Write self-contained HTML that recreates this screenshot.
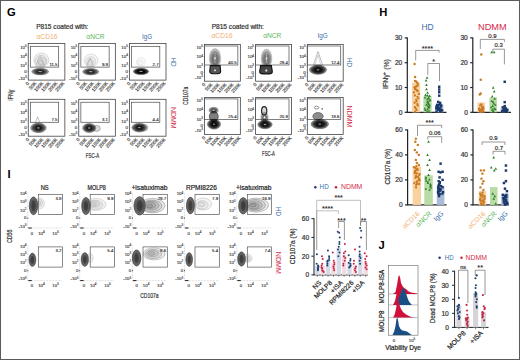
<!DOCTYPE html>
<html><head><meta charset="utf-8"><style>
html,body{margin:0;padding:0;background:#fff;}
body{width:520px;height:360px;overflow:hidden;position:relative;}
svg{display:block;position:absolute;left:0;top:0;}
.bd{position:absolute;left:0;top:0;width:520px;height:360px;box-sizing:border-box;border:1px solid #5a5a5a;pointer-events:none;}
</style></head><body>
<svg width="520" height="360" viewBox="0 0 520 360" font-family='"Liberation Sans", sans-serif'>
<defs><radialGradient id="gi"><stop offset="0" stop-color="#2a2a2a"/><stop offset="0.5" stop-color="#333"/><stop offset="0.8" stop-color="#555"/><stop offset="1" stop-color="#999"/></radialGradient><radialGradient id="gb"><stop offset="0" stop-color="#111"/><stop offset="0.55" stop-color="#1c1c1c"/><stop offset="0.8" stop-color="#444"/><stop offset="1" stop-color="#888"/></radialGradient></defs>
<rect x="0" y="0" width="520" height="360" fill="#fff"/>
<text x="7.00" y="16.30" font-size="11.2" fill="#000" text-anchor="start" font-weight="bold">G</text>
<text x="379.20" y="16.30" font-size="11.2" fill="#000" text-anchor="start" font-weight="bold">H</text>
<text x="7.60" y="177.70" font-size="11.2" fill="#000" text-anchor="start" font-weight="bold">I</text>
<text x="378.60" y="248.70" font-size="11.2" fill="#000" text-anchor="start" font-weight="bold">J</text>
<rect x="28.25" y="43.40" width="36.60" height="36.70" fill="none" stroke="#444" stroke-width="0.8"/>
<rect x="30.35" y="46.35" width="28.30" height="20.75" fill="none" stroke="#555" stroke-width="0.75"/>
<text x="57.45" y="65.80" font-size="4.3" fill="#222" text-anchor="end" font-weight="normal" stroke="#222" stroke-width="0.12">11.5</text>
<text x="26.65" y="48.90" font-size="4.3" fill="#333" text-anchor="end" font-weight="normal" stroke="#333" stroke-width="0.12">10<tspan dy="-1.8" font-size="3">5</tspan></text>
<line x1="27.45" y1="47.40" x2="28.25" y2="47.40" stroke="#555" stroke-width="0.4"/>
<text x="26.65" y="57.60" font-size="4.3" fill="#333" text-anchor="end" font-weight="normal" stroke="#333" stroke-width="0.12">10<tspan dy="-1.8" font-size="3">4</tspan></text>
<line x1="27.45" y1="56.10" x2="28.25" y2="56.10" stroke="#555" stroke-width="0.4"/>
<text x="26.65" y="67.10" font-size="4.3" fill="#333" text-anchor="end" font-weight="normal" stroke="#333" stroke-width="0.12">10<tspan dy="-1.8" font-size="3">3</tspan></text>
<line x1="27.45" y1="65.60" x2="28.25" y2="65.60" stroke="#555" stroke-width="0.4"/>
<text x="26.65" y="72.60" font-size="4.3" fill="#333" text-anchor="end" font-weight="normal" stroke="#333" stroke-width="0.12">0</text>
<line x1="27.45" y1="71.10" x2="28.25" y2="71.10" stroke="#555" stroke-width="0.4"/>
<text x="26.65" y="79.90" font-size="4.3" fill="#333" text-anchor="end" font-weight="normal" stroke="#333" stroke-width="0.12">-10<tspan dy="-1.8" font-size="3">3</tspan></text>
<line x1="27.45" y1="78.40" x2="28.25" y2="78.40" stroke="#555" stroke-width="0.4"/>
<text x="29.65" y="83.70" font-size="4.8" fill="#333" text-anchor="end" font-weight="normal" transform="rotate(-48 29.65 83.69999999999999)" stroke="#333" stroke-width="0.12">0</text>
<text x="36.65" y="83.70" font-size="4.8" fill="#333" text-anchor="end" font-weight="normal" transform="rotate(-48 36.65 83.69999999999999)" stroke="#333" stroke-width="0.12">50K</text>
<text x="43.65" y="83.70" font-size="4.8" fill="#333" text-anchor="end" font-weight="normal" transform="rotate(-48 43.65 83.69999999999999)" stroke="#333" stroke-width="0.12">100K</text>
<text x="50.65" y="83.70" font-size="4.8" fill="#333" text-anchor="end" font-weight="normal" transform="rotate(-48 50.65 83.69999999999999)" stroke="#333" stroke-width="0.12">150K</text>
<text x="57.65" y="83.70" font-size="4.8" fill="#333" text-anchor="end" font-weight="normal" transform="rotate(-48 57.65 83.69999999999999)" stroke="#333" stroke-width="0.12">200K</text>
<text x="64.65" y="83.70" font-size="4.8" fill="#333" text-anchor="end" font-weight="normal" transform="rotate(-48 64.65 83.69999999999999)" stroke="#333" stroke-width="0.12">250K</text>
<rect x="78.75" y="43.40" width="36.60" height="36.70" fill="none" stroke="#444" stroke-width="0.8"/>
<rect x="80.85" y="46.35" width="28.30" height="20.75" fill="none" stroke="#555" stroke-width="0.75"/>
<text x="107.95" y="65.80" font-size="4.3" fill="#222" text-anchor="end" font-weight="normal" stroke="#222" stroke-width="0.12">9.9</text>
<text x="77.15" y="48.90" font-size="4.3" fill="#333" text-anchor="end" font-weight="normal" stroke="#333" stroke-width="0.12">10<tspan dy="-1.8" font-size="3">5</tspan></text>
<line x1="77.95" y1="47.40" x2="78.75" y2="47.40" stroke="#555" stroke-width="0.4"/>
<text x="77.15" y="57.60" font-size="4.3" fill="#333" text-anchor="end" font-weight="normal" stroke="#333" stroke-width="0.12">10<tspan dy="-1.8" font-size="3">4</tspan></text>
<line x1="77.95" y1="56.10" x2="78.75" y2="56.10" stroke="#555" stroke-width="0.4"/>
<text x="77.15" y="67.10" font-size="4.3" fill="#333" text-anchor="end" font-weight="normal" stroke="#333" stroke-width="0.12">10<tspan dy="-1.8" font-size="3">3</tspan></text>
<line x1="77.95" y1="65.60" x2="78.75" y2="65.60" stroke="#555" stroke-width="0.4"/>
<text x="77.15" y="72.60" font-size="4.3" fill="#333" text-anchor="end" font-weight="normal" stroke="#333" stroke-width="0.12">0</text>
<line x1="77.95" y1="71.10" x2="78.75" y2="71.10" stroke="#555" stroke-width="0.4"/>
<text x="77.15" y="79.90" font-size="4.3" fill="#333" text-anchor="end" font-weight="normal" stroke="#333" stroke-width="0.12">-10<tspan dy="-1.8" font-size="3">3</tspan></text>
<line x1="77.95" y1="78.40" x2="78.75" y2="78.40" stroke="#555" stroke-width="0.4"/>
<text x="80.15" y="83.70" font-size="4.8" fill="#333" text-anchor="end" font-weight="normal" transform="rotate(-48 80.15 83.69999999999999)" stroke="#333" stroke-width="0.12">0</text>
<text x="87.15" y="83.70" font-size="4.8" fill="#333" text-anchor="end" font-weight="normal" transform="rotate(-48 87.15 83.69999999999999)" stroke="#333" stroke-width="0.12">50K</text>
<text x="94.15" y="83.70" font-size="4.8" fill="#333" text-anchor="end" font-weight="normal" transform="rotate(-48 94.15 83.69999999999999)" stroke="#333" stroke-width="0.12">100K</text>
<text x="101.15" y="83.70" font-size="4.8" fill="#333" text-anchor="end" font-weight="normal" transform="rotate(-48 101.15 83.69999999999999)" stroke="#333" stroke-width="0.12">150K</text>
<text x="108.15" y="83.70" font-size="4.8" fill="#333" text-anchor="end" font-weight="normal" transform="rotate(-48 108.15 83.69999999999999)" stroke="#333" stroke-width="0.12">200K</text>
<text x="115.15" y="83.70" font-size="4.8" fill="#333" text-anchor="end" font-weight="normal" transform="rotate(-48 115.15 83.69999999999999)" stroke="#333" stroke-width="0.12">250K</text>
<rect x="129.40" y="43.40" width="36.60" height="36.70" fill="none" stroke="#444" stroke-width="0.8"/>
<rect x="131.50" y="46.35" width="28.30" height="20.75" fill="none" stroke="#555" stroke-width="0.75"/>
<text x="158.60" y="65.80" font-size="4.3" fill="#222" text-anchor="end" font-weight="normal" stroke="#222" stroke-width="0.12">2.7</text>
<text x="127.80" y="48.90" font-size="4.3" fill="#333" text-anchor="end" font-weight="normal" stroke="#333" stroke-width="0.12">10<tspan dy="-1.8" font-size="3">5</tspan></text>
<line x1="128.60" y1="47.40" x2="129.40" y2="47.40" stroke="#555" stroke-width="0.4"/>
<text x="127.80" y="57.60" font-size="4.3" fill="#333" text-anchor="end" font-weight="normal" stroke="#333" stroke-width="0.12">10<tspan dy="-1.8" font-size="3">4</tspan></text>
<line x1="128.60" y1="56.10" x2="129.40" y2="56.10" stroke="#555" stroke-width="0.4"/>
<text x="127.80" y="67.10" font-size="4.3" fill="#333" text-anchor="end" font-weight="normal" stroke="#333" stroke-width="0.12">10<tspan dy="-1.8" font-size="3">3</tspan></text>
<line x1="128.60" y1="65.60" x2="129.40" y2="65.60" stroke="#555" stroke-width="0.4"/>
<text x="127.80" y="72.60" font-size="4.3" fill="#333" text-anchor="end" font-weight="normal" stroke="#333" stroke-width="0.12">0</text>
<line x1="128.60" y1="71.10" x2="129.40" y2="71.10" stroke="#555" stroke-width="0.4"/>
<text x="127.80" y="79.90" font-size="4.3" fill="#333" text-anchor="end" font-weight="normal" stroke="#333" stroke-width="0.12">-10<tspan dy="-1.8" font-size="3">3</tspan></text>
<line x1="128.60" y1="78.40" x2="129.40" y2="78.40" stroke="#555" stroke-width="0.4"/>
<text x="130.80" y="83.70" font-size="4.8" fill="#333" text-anchor="end" font-weight="normal" transform="rotate(-48 130.8 83.69999999999999)" stroke="#333" stroke-width="0.12">0</text>
<text x="137.80" y="83.70" font-size="4.8" fill="#333" text-anchor="end" font-weight="normal" transform="rotate(-48 137.8 83.69999999999999)" stroke="#333" stroke-width="0.12">50K</text>
<text x="144.80" y="83.70" font-size="4.8" fill="#333" text-anchor="end" font-weight="normal" transform="rotate(-48 144.8 83.69999999999999)" stroke="#333" stroke-width="0.12">100K</text>
<text x="151.80" y="83.70" font-size="4.8" fill="#333" text-anchor="end" font-weight="normal" transform="rotate(-48 151.8 83.69999999999999)" stroke="#333" stroke-width="0.12">150K</text>
<text x="158.80" y="83.70" font-size="4.8" fill="#333" text-anchor="end" font-weight="normal" transform="rotate(-48 158.8 83.69999999999999)" stroke="#333" stroke-width="0.12">200K</text>
<text x="165.80" y="83.70" font-size="4.8" fill="#333" text-anchor="end" font-weight="normal" transform="rotate(-48 165.8 83.69999999999999)" stroke="#333" stroke-width="0.12">250K</text>
<rect x="28.25" y="99.30" width="36.60" height="36.90" fill="none" stroke="#444" stroke-width="0.8"/>
<rect x="30.35" y="102.25" width="28.30" height="20.05" fill="none" stroke="#555" stroke-width="0.75"/>
<text x="57.45" y="121.00" font-size="4.3" fill="#222" text-anchor="end" font-weight="normal" stroke="#222" stroke-width="0.12">7.5</text>
<text x="26.65" y="104.80" font-size="4.3" fill="#333" text-anchor="end" font-weight="normal" stroke="#333" stroke-width="0.12">10<tspan dy="-1.8" font-size="3">5</tspan></text>
<line x1="27.45" y1="103.30" x2="28.25" y2="103.30" stroke="#555" stroke-width="0.4"/>
<text x="26.65" y="113.50" font-size="4.3" fill="#333" text-anchor="end" font-weight="normal" stroke="#333" stroke-width="0.12">10<tspan dy="-1.8" font-size="3">4</tspan></text>
<line x1="27.45" y1="112.00" x2="28.25" y2="112.00" stroke="#555" stroke-width="0.4"/>
<text x="26.65" y="123.00" font-size="4.3" fill="#333" text-anchor="end" font-weight="normal" stroke="#333" stroke-width="0.12">10<tspan dy="-1.8" font-size="3">3</tspan></text>
<line x1="27.45" y1="121.50" x2="28.25" y2="121.50" stroke="#555" stroke-width="0.4"/>
<text x="26.65" y="128.50" font-size="4.3" fill="#333" text-anchor="end" font-weight="normal" stroke="#333" stroke-width="0.12">0</text>
<line x1="27.45" y1="127.00" x2="28.25" y2="127.00" stroke="#555" stroke-width="0.4"/>
<text x="26.65" y="135.80" font-size="4.3" fill="#333" text-anchor="end" font-weight="normal" stroke="#333" stroke-width="0.12">-10<tspan dy="-1.8" font-size="3">3</tspan></text>
<line x1="27.45" y1="134.30" x2="28.25" y2="134.30" stroke="#555" stroke-width="0.4"/>
<text x="29.65" y="139.80" font-size="4.8" fill="#333" text-anchor="end" font-weight="normal" transform="rotate(-48 29.65 139.79999999999998)" stroke="#333" stroke-width="0.12">0</text>
<text x="36.65" y="139.80" font-size="4.8" fill="#333" text-anchor="end" font-weight="normal" transform="rotate(-48 36.65 139.79999999999998)" stroke="#333" stroke-width="0.12">50K</text>
<text x="43.65" y="139.80" font-size="4.8" fill="#333" text-anchor="end" font-weight="normal" transform="rotate(-48 43.65 139.79999999999998)" stroke="#333" stroke-width="0.12">100K</text>
<text x="50.65" y="139.80" font-size="4.8" fill="#333" text-anchor="end" font-weight="normal" transform="rotate(-48 50.65 139.79999999999998)" stroke="#333" stroke-width="0.12">150K</text>
<text x="57.65" y="139.80" font-size="4.8" fill="#333" text-anchor="end" font-weight="normal" transform="rotate(-48 57.65 139.79999999999998)" stroke="#333" stroke-width="0.12">200K</text>
<text x="64.65" y="139.80" font-size="4.8" fill="#333" text-anchor="end" font-weight="normal" transform="rotate(-48 64.65 139.79999999999998)" stroke="#333" stroke-width="0.12">250K</text>
<rect x="78.75" y="99.30" width="36.60" height="36.90" fill="none" stroke="#444" stroke-width="0.8"/>
<rect x="80.85" y="102.25" width="28.30" height="20.05" fill="none" stroke="#555" stroke-width="0.75"/>
<text x="107.95" y="121.00" font-size="4.3" fill="#222" text-anchor="end" font-weight="normal" stroke="#222" stroke-width="0.12">3.1</text>
<text x="77.15" y="104.80" font-size="4.3" fill="#333" text-anchor="end" font-weight="normal" stroke="#333" stroke-width="0.12">10<tspan dy="-1.8" font-size="3">5</tspan></text>
<line x1="77.95" y1="103.30" x2="78.75" y2="103.30" stroke="#555" stroke-width="0.4"/>
<text x="77.15" y="113.50" font-size="4.3" fill="#333" text-anchor="end" font-weight="normal" stroke="#333" stroke-width="0.12">10<tspan dy="-1.8" font-size="3">4</tspan></text>
<line x1="77.95" y1="112.00" x2="78.75" y2="112.00" stroke="#555" stroke-width="0.4"/>
<text x="77.15" y="123.00" font-size="4.3" fill="#333" text-anchor="end" font-weight="normal" stroke="#333" stroke-width="0.12">10<tspan dy="-1.8" font-size="3">3</tspan></text>
<line x1="77.95" y1="121.50" x2="78.75" y2="121.50" stroke="#555" stroke-width="0.4"/>
<text x="77.15" y="128.50" font-size="4.3" fill="#333" text-anchor="end" font-weight="normal" stroke="#333" stroke-width="0.12">0</text>
<line x1="77.95" y1="127.00" x2="78.75" y2="127.00" stroke="#555" stroke-width="0.4"/>
<text x="77.15" y="135.80" font-size="4.3" fill="#333" text-anchor="end" font-weight="normal" stroke="#333" stroke-width="0.12">-10<tspan dy="-1.8" font-size="3">3</tspan></text>
<line x1="77.95" y1="134.30" x2="78.75" y2="134.30" stroke="#555" stroke-width="0.4"/>
<text x="80.15" y="139.80" font-size="4.8" fill="#333" text-anchor="end" font-weight="normal" transform="rotate(-48 80.15 139.79999999999998)" stroke="#333" stroke-width="0.12">0</text>
<text x="87.15" y="139.80" font-size="4.8" fill="#333" text-anchor="end" font-weight="normal" transform="rotate(-48 87.15 139.79999999999998)" stroke="#333" stroke-width="0.12">50K</text>
<text x="94.15" y="139.80" font-size="4.8" fill="#333" text-anchor="end" font-weight="normal" transform="rotate(-48 94.15 139.79999999999998)" stroke="#333" stroke-width="0.12">100K</text>
<text x="101.15" y="139.80" font-size="4.8" fill="#333" text-anchor="end" font-weight="normal" transform="rotate(-48 101.15 139.79999999999998)" stroke="#333" stroke-width="0.12">150K</text>
<text x="108.15" y="139.80" font-size="4.8" fill="#333" text-anchor="end" font-weight="normal" transform="rotate(-48 108.15 139.79999999999998)" stroke="#333" stroke-width="0.12">200K</text>
<text x="115.15" y="139.80" font-size="4.8" fill="#333" text-anchor="end" font-weight="normal" transform="rotate(-48 115.15 139.79999999999998)" stroke="#333" stroke-width="0.12">250K</text>
<rect x="129.40" y="99.30" width="36.60" height="36.90" fill="none" stroke="#444" stroke-width="0.8"/>
<rect x="131.50" y="102.25" width="28.30" height="20.05" fill="none" stroke="#555" stroke-width="0.75"/>
<text x="158.60" y="121.00" font-size="4.3" fill="#222" text-anchor="end" font-weight="normal" stroke="#222" stroke-width="0.12">4.4</text>
<text x="127.80" y="104.80" font-size="4.3" fill="#333" text-anchor="end" font-weight="normal" stroke="#333" stroke-width="0.12">10<tspan dy="-1.8" font-size="3">5</tspan></text>
<line x1="128.60" y1="103.30" x2="129.40" y2="103.30" stroke="#555" stroke-width="0.4"/>
<text x="127.80" y="113.50" font-size="4.3" fill="#333" text-anchor="end" font-weight="normal" stroke="#333" stroke-width="0.12">10<tspan dy="-1.8" font-size="3">4</tspan></text>
<line x1="128.60" y1="112.00" x2="129.40" y2="112.00" stroke="#555" stroke-width="0.4"/>
<text x="127.80" y="123.00" font-size="4.3" fill="#333" text-anchor="end" font-weight="normal" stroke="#333" stroke-width="0.12">10<tspan dy="-1.8" font-size="3">3</tspan></text>
<line x1="128.60" y1="121.50" x2="129.40" y2="121.50" stroke="#555" stroke-width="0.4"/>
<text x="127.80" y="128.50" font-size="4.3" fill="#333" text-anchor="end" font-weight="normal" stroke="#333" stroke-width="0.12">0</text>
<line x1="128.60" y1="127.00" x2="129.40" y2="127.00" stroke="#555" stroke-width="0.4"/>
<text x="127.80" y="135.80" font-size="4.3" fill="#333" text-anchor="end" font-weight="normal" stroke="#333" stroke-width="0.12">-10<tspan dy="-1.8" font-size="3">3</tspan></text>
<line x1="128.60" y1="134.30" x2="129.40" y2="134.30" stroke="#555" stroke-width="0.4"/>
<text x="130.80" y="139.80" font-size="4.8" fill="#333" text-anchor="end" font-weight="normal" transform="rotate(-48 130.8 139.79999999999998)" stroke="#333" stroke-width="0.12">0</text>
<text x="137.80" y="139.80" font-size="4.8" fill="#333" text-anchor="end" font-weight="normal" transform="rotate(-48 137.8 139.79999999999998)" stroke="#333" stroke-width="0.12">50K</text>
<text x="144.80" y="139.80" font-size="4.8" fill="#333" text-anchor="end" font-weight="normal" transform="rotate(-48 144.8 139.79999999999998)" stroke="#333" stroke-width="0.12">100K</text>
<text x="151.80" y="139.80" font-size="4.8" fill="#333" text-anchor="end" font-weight="normal" transform="rotate(-48 151.8 139.79999999999998)" stroke="#333" stroke-width="0.12">150K</text>
<text x="158.80" y="139.80" font-size="4.8" fill="#333" text-anchor="end" font-weight="normal" transform="rotate(-48 158.8 139.79999999999998)" stroke="#333" stroke-width="0.12">200K</text>
<text x="165.80" y="139.80" font-size="4.8" fill="#333" text-anchor="end" font-weight="normal" transform="rotate(-48 165.8 139.79999999999998)" stroke="#333" stroke-width="0.12">250K</text>
<rect x="204.45" y="44.50" width="35.90" height="36.70" fill="none" stroke="#444" stroke-width="0.8"/>
<rect x="204.45" y="46.00" width="33.40" height="19.00" fill="none" stroke="#555" stroke-width="0.75"/>
<text x="236.65" y="63.70" font-size="4.3" fill="#222" text-anchor="end" font-weight="normal" stroke="#222" stroke-width="0.12">40.5</text>
<text x="202.85" y="49.00" font-size="4.3" fill="#333" text-anchor="end" font-weight="normal" stroke="#333" stroke-width="0.12">10<tspan dy="-1.8" font-size="3">5</tspan></text>
<line x1="203.65" y1="47.50" x2="204.45" y2="47.50" stroke="#555" stroke-width="0.4"/>
<text x="202.85" y="58.40" font-size="4.3" fill="#333" text-anchor="end" font-weight="normal" stroke="#333" stroke-width="0.12">10<tspan dy="-1.8" font-size="3">4</tspan></text>
<line x1="203.65" y1="56.90" x2="204.45" y2="56.90" stroke="#555" stroke-width="0.4"/>
<text x="202.85" y="68.00" font-size="4.3" fill="#333" text-anchor="end" font-weight="normal" stroke="#333" stroke-width="0.12">10<tspan dy="-1.8" font-size="3">3</tspan></text>
<line x1="203.65" y1="66.50" x2="204.45" y2="66.50" stroke="#555" stroke-width="0.4"/>
<text x="202.85" y="73.70" font-size="4.3" fill="#333" text-anchor="end" font-weight="normal" stroke="#333" stroke-width="0.12">0</text>
<line x1="203.65" y1="72.20" x2="204.45" y2="72.20" stroke="#555" stroke-width="0.4"/>
<text x="202.85" y="78.60" font-size="4.3" fill="#333" text-anchor="end" font-weight="normal" stroke="#333" stroke-width="0.12">-10<tspan dy="-1.8" font-size="3">3</tspan></text>
<line x1="203.65" y1="77.10" x2="204.45" y2="77.10" stroke="#555" stroke-width="0.4"/>
<text x="205.85" y="84.80" font-size="4.8" fill="#333" text-anchor="end" font-weight="normal" transform="rotate(-48 205.85 84.8)" stroke="#333" stroke-width="0.12">0</text>
<text x="212.85" y="84.80" font-size="4.8" fill="#333" text-anchor="end" font-weight="normal" transform="rotate(-48 212.85 84.8)" stroke="#333" stroke-width="0.12">50K</text>
<text x="219.85" y="84.80" font-size="4.8" fill="#333" text-anchor="end" font-weight="normal" transform="rotate(-48 219.85 84.8)" stroke="#333" stroke-width="0.12">100K</text>
<text x="226.85" y="84.80" font-size="4.8" fill="#333" text-anchor="end" font-weight="normal" transform="rotate(-48 226.85 84.8)" stroke="#333" stroke-width="0.12">150K</text>
<text x="233.85" y="84.80" font-size="4.8" fill="#333" text-anchor="end" font-weight="normal" transform="rotate(-48 233.85 84.8)" stroke="#333" stroke-width="0.12">200K</text>
<text x="240.85" y="84.80" font-size="4.8" fill="#333" text-anchor="end" font-weight="normal" transform="rotate(-48 240.85 84.8)" stroke="#333" stroke-width="0.12">250K</text>
<rect x="255.60" y="44.50" width="35.90" height="36.70" fill="none" stroke="#444" stroke-width="0.8"/>
<rect x="255.60" y="46.00" width="33.40" height="19.00" fill="none" stroke="#555" stroke-width="0.75"/>
<text x="287.80" y="63.70" font-size="4.3" fill="#222" text-anchor="end" font-weight="normal" stroke="#222" stroke-width="0.12">29.4</text>
<text x="254.00" y="49.00" font-size="4.3" fill="#333" text-anchor="end" font-weight="normal" stroke="#333" stroke-width="0.12">10<tspan dy="-1.8" font-size="3">5</tspan></text>
<line x1="254.80" y1="47.50" x2="255.60" y2="47.50" stroke="#555" stroke-width="0.4"/>
<text x="254.00" y="58.40" font-size="4.3" fill="#333" text-anchor="end" font-weight="normal" stroke="#333" stroke-width="0.12">10<tspan dy="-1.8" font-size="3">4</tspan></text>
<line x1="254.80" y1="56.90" x2="255.60" y2="56.90" stroke="#555" stroke-width="0.4"/>
<text x="254.00" y="68.00" font-size="4.3" fill="#333" text-anchor="end" font-weight="normal" stroke="#333" stroke-width="0.12">10<tspan dy="-1.8" font-size="3">3</tspan></text>
<line x1="254.80" y1="66.50" x2="255.60" y2="66.50" stroke="#555" stroke-width="0.4"/>
<text x="254.00" y="73.70" font-size="4.3" fill="#333" text-anchor="end" font-weight="normal" stroke="#333" stroke-width="0.12">0</text>
<line x1="254.80" y1="72.20" x2="255.60" y2="72.20" stroke="#555" stroke-width="0.4"/>
<text x="254.00" y="78.60" font-size="4.3" fill="#333" text-anchor="end" font-weight="normal" stroke="#333" stroke-width="0.12">-10<tspan dy="-1.8" font-size="3">3</tspan></text>
<line x1="254.80" y1="77.10" x2="255.60" y2="77.10" stroke="#555" stroke-width="0.4"/>
<text x="257.00" y="84.80" font-size="4.8" fill="#333" text-anchor="end" font-weight="normal" transform="rotate(-48 257.0 84.8)" stroke="#333" stroke-width="0.12">0</text>
<text x="264.00" y="84.80" font-size="4.8" fill="#333" text-anchor="end" font-weight="normal" transform="rotate(-48 264.0 84.8)" stroke="#333" stroke-width="0.12">50K</text>
<text x="271.00" y="84.80" font-size="4.8" fill="#333" text-anchor="end" font-weight="normal" transform="rotate(-48 271.0 84.8)" stroke="#333" stroke-width="0.12">100K</text>
<text x="278.00" y="84.80" font-size="4.8" fill="#333" text-anchor="end" font-weight="normal" transform="rotate(-48 278.0 84.8)" stroke="#333" stroke-width="0.12">150K</text>
<text x="285.00" y="84.80" font-size="4.8" fill="#333" text-anchor="end" font-weight="normal" transform="rotate(-48 285.0 84.8)" stroke="#333" stroke-width="0.12">200K</text>
<text x="292.00" y="84.80" font-size="4.8" fill="#333" text-anchor="end" font-weight="normal" transform="rotate(-48 292.0 84.8)" stroke="#333" stroke-width="0.12">250K</text>
<rect x="307.30" y="44.50" width="35.90" height="36.70" fill="none" stroke="#444" stroke-width="0.8"/>
<rect x="307.30" y="46.00" width="33.40" height="19.00" fill="none" stroke="#555" stroke-width="0.75"/>
<text x="339.50" y="63.70" font-size="4.3" fill="#222" text-anchor="end" font-weight="normal" stroke="#222" stroke-width="0.12">12.4</text>
<text x="305.70" y="49.00" font-size="4.3" fill="#333" text-anchor="end" font-weight="normal" stroke="#333" stroke-width="0.12">10<tspan dy="-1.8" font-size="3">5</tspan></text>
<line x1="306.50" y1="47.50" x2="307.30" y2="47.50" stroke="#555" stroke-width="0.4"/>
<text x="305.70" y="58.40" font-size="4.3" fill="#333" text-anchor="end" font-weight="normal" stroke="#333" stroke-width="0.12">10<tspan dy="-1.8" font-size="3">4</tspan></text>
<line x1="306.50" y1="56.90" x2="307.30" y2="56.90" stroke="#555" stroke-width="0.4"/>
<text x="305.70" y="68.00" font-size="4.3" fill="#333" text-anchor="end" font-weight="normal" stroke="#333" stroke-width="0.12">10<tspan dy="-1.8" font-size="3">3</tspan></text>
<line x1="306.50" y1="66.50" x2="307.30" y2="66.50" stroke="#555" stroke-width="0.4"/>
<text x="305.70" y="73.70" font-size="4.3" fill="#333" text-anchor="end" font-weight="normal" stroke="#333" stroke-width="0.12">0</text>
<line x1="306.50" y1="72.20" x2="307.30" y2="72.20" stroke="#555" stroke-width="0.4"/>
<text x="305.70" y="78.60" font-size="4.3" fill="#333" text-anchor="end" font-weight="normal" stroke="#333" stroke-width="0.12">-10<tspan dy="-1.8" font-size="3">3</tspan></text>
<line x1="306.50" y1="77.10" x2="307.30" y2="77.10" stroke="#555" stroke-width="0.4"/>
<text x="308.70" y="84.80" font-size="4.8" fill="#333" text-anchor="end" font-weight="normal" transform="rotate(-48 308.7 84.8)" stroke="#333" stroke-width="0.12">0</text>
<text x="315.70" y="84.80" font-size="4.8" fill="#333" text-anchor="end" font-weight="normal" transform="rotate(-48 315.7 84.8)" stroke="#333" stroke-width="0.12">50K</text>
<text x="322.70" y="84.80" font-size="4.8" fill="#333" text-anchor="end" font-weight="normal" transform="rotate(-48 322.7 84.8)" stroke="#333" stroke-width="0.12">100K</text>
<text x="329.70" y="84.80" font-size="4.8" fill="#333" text-anchor="end" font-weight="normal" transform="rotate(-48 329.7 84.8)" stroke="#333" stroke-width="0.12">150K</text>
<text x="336.70" y="84.80" font-size="4.8" fill="#333" text-anchor="end" font-weight="normal" transform="rotate(-48 336.7 84.8)" stroke="#333" stroke-width="0.12">200K</text>
<text x="343.70" y="84.80" font-size="4.8" fill="#333" text-anchor="end" font-weight="normal" transform="rotate(-48 343.7 84.8)" stroke="#333" stroke-width="0.12">250K</text>
<rect x="204.45" y="97.40" width="35.90" height="37.10" fill="none" stroke="#444" stroke-width="0.8"/>
<rect x="204.45" y="98.90" width="33.40" height="20.50" fill="none" stroke="#555" stroke-width="0.75"/>
<text x="236.65" y="118.10" font-size="4.3" fill="#222" text-anchor="end" font-weight="normal" stroke="#222" stroke-width="0.12">25.4</text>
<text x="202.85" y="101.90" font-size="4.3" fill="#333" text-anchor="end" font-weight="normal" stroke="#333" stroke-width="0.12">10<tspan dy="-1.8" font-size="3">5</tspan></text>
<line x1="203.65" y1="100.40" x2="204.45" y2="100.40" stroke="#555" stroke-width="0.4"/>
<text x="202.85" y="111.30" font-size="4.3" fill="#333" text-anchor="end" font-weight="normal" stroke="#333" stroke-width="0.12">10<tspan dy="-1.8" font-size="3">4</tspan></text>
<line x1="203.65" y1="109.80" x2="204.45" y2="109.80" stroke="#555" stroke-width="0.4"/>
<text x="202.85" y="120.90" font-size="4.3" fill="#333" text-anchor="end" font-weight="normal" stroke="#333" stroke-width="0.12">10<tspan dy="-1.8" font-size="3">3</tspan></text>
<line x1="203.65" y1="119.40" x2="204.45" y2="119.40" stroke="#555" stroke-width="0.4"/>
<text x="202.85" y="126.60" font-size="4.3" fill="#333" text-anchor="end" font-weight="normal" stroke="#333" stroke-width="0.12">0</text>
<line x1="203.65" y1="125.10" x2="204.45" y2="125.10" stroke="#555" stroke-width="0.4"/>
<text x="202.85" y="131.50" font-size="4.3" fill="#333" text-anchor="end" font-weight="normal" stroke="#333" stroke-width="0.12">-10<tspan dy="-1.8" font-size="3">3</tspan></text>
<line x1="203.65" y1="130.00" x2="204.45" y2="130.00" stroke="#555" stroke-width="0.4"/>
<text x="205.85" y="138.10" font-size="4.8" fill="#333" text-anchor="end" font-weight="normal" transform="rotate(-48 205.85 138.1)" stroke="#333" stroke-width="0.12">0</text>
<text x="212.85" y="138.10" font-size="4.8" fill="#333" text-anchor="end" font-weight="normal" transform="rotate(-48 212.85 138.1)" stroke="#333" stroke-width="0.12">50K</text>
<text x="219.85" y="138.10" font-size="4.8" fill="#333" text-anchor="end" font-weight="normal" transform="rotate(-48 219.85 138.1)" stroke="#333" stroke-width="0.12">100K</text>
<text x="226.85" y="138.10" font-size="4.8" fill="#333" text-anchor="end" font-weight="normal" transform="rotate(-48 226.85 138.1)" stroke="#333" stroke-width="0.12">150K</text>
<text x="233.85" y="138.10" font-size="4.8" fill="#333" text-anchor="end" font-weight="normal" transform="rotate(-48 233.85 138.1)" stroke="#333" stroke-width="0.12">200K</text>
<text x="240.85" y="138.10" font-size="4.8" fill="#333" text-anchor="end" font-weight="normal" transform="rotate(-48 240.85 138.1)" stroke="#333" stroke-width="0.12">250K</text>
<rect x="255.60" y="97.40" width="35.90" height="37.10" fill="none" stroke="#444" stroke-width="0.8"/>
<rect x="255.60" y="98.90" width="33.40" height="20.50" fill="none" stroke="#555" stroke-width="0.75"/>
<text x="287.80" y="118.10" font-size="4.3" fill="#222" text-anchor="end" font-weight="normal" stroke="#222" stroke-width="0.12">20.9</text>
<text x="254.00" y="101.90" font-size="4.3" fill="#333" text-anchor="end" font-weight="normal" stroke="#333" stroke-width="0.12">10<tspan dy="-1.8" font-size="3">5</tspan></text>
<line x1="254.80" y1="100.40" x2="255.60" y2="100.40" stroke="#555" stroke-width="0.4"/>
<text x="254.00" y="111.30" font-size="4.3" fill="#333" text-anchor="end" font-weight="normal" stroke="#333" stroke-width="0.12">10<tspan dy="-1.8" font-size="3">4</tspan></text>
<line x1="254.80" y1="109.80" x2="255.60" y2="109.80" stroke="#555" stroke-width="0.4"/>
<text x="254.00" y="120.90" font-size="4.3" fill="#333" text-anchor="end" font-weight="normal" stroke="#333" stroke-width="0.12">10<tspan dy="-1.8" font-size="3">3</tspan></text>
<line x1="254.80" y1="119.40" x2="255.60" y2="119.40" stroke="#555" stroke-width="0.4"/>
<text x="254.00" y="126.60" font-size="4.3" fill="#333" text-anchor="end" font-weight="normal" stroke="#333" stroke-width="0.12">0</text>
<line x1="254.80" y1="125.10" x2="255.60" y2="125.10" stroke="#555" stroke-width="0.4"/>
<text x="254.00" y="131.50" font-size="4.3" fill="#333" text-anchor="end" font-weight="normal" stroke="#333" stroke-width="0.12">-10<tspan dy="-1.8" font-size="3">3</tspan></text>
<line x1="254.80" y1="130.00" x2="255.60" y2="130.00" stroke="#555" stroke-width="0.4"/>
<text x="257.00" y="138.10" font-size="4.8" fill="#333" text-anchor="end" font-weight="normal" transform="rotate(-48 257.0 138.1)" stroke="#333" stroke-width="0.12">0</text>
<text x="264.00" y="138.10" font-size="4.8" fill="#333" text-anchor="end" font-weight="normal" transform="rotate(-48 264.0 138.1)" stroke="#333" stroke-width="0.12">50K</text>
<text x="271.00" y="138.10" font-size="4.8" fill="#333" text-anchor="end" font-weight="normal" transform="rotate(-48 271.0 138.1)" stroke="#333" stroke-width="0.12">100K</text>
<text x="278.00" y="138.10" font-size="4.8" fill="#333" text-anchor="end" font-weight="normal" transform="rotate(-48 278.0 138.1)" stroke="#333" stroke-width="0.12">150K</text>
<text x="285.00" y="138.10" font-size="4.8" fill="#333" text-anchor="end" font-weight="normal" transform="rotate(-48 285.0 138.1)" stroke="#333" stroke-width="0.12">200K</text>
<text x="292.00" y="138.10" font-size="4.8" fill="#333" text-anchor="end" font-weight="normal" transform="rotate(-48 292.0 138.1)" stroke="#333" stroke-width="0.12">250K</text>
<rect x="307.30" y="97.40" width="35.90" height="37.10" fill="none" stroke="#444" stroke-width="0.8"/>
<rect x="307.30" y="98.90" width="33.40" height="20.50" fill="none" stroke="#555" stroke-width="0.75"/>
<text x="339.50" y="118.10" font-size="4.3" fill="#222" text-anchor="end" font-weight="normal" stroke="#222" stroke-width="0.12">18.6</text>
<text x="305.70" y="101.90" font-size="4.3" fill="#333" text-anchor="end" font-weight="normal" stroke="#333" stroke-width="0.12">10<tspan dy="-1.8" font-size="3">5</tspan></text>
<line x1="306.50" y1="100.40" x2="307.30" y2="100.40" stroke="#555" stroke-width="0.4"/>
<text x="305.70" y="111.30" font-size="4.3" fill="#333" text-anchor="end" font-weight="normal" stroke="#333" stroke-width="0.12">10<tspan dy="-1.8" font-size="3">4</tspan></text>
<line x1="306.50" y1="109.80" x2="307.30" y2="109.80" stroke="#555" stroke-width="0.4"/>
<text x="305.70" y="120.90" font-size="4.3" fill="#333" text-anchor="end" font-weight="normal" stroke="#333" stroke-width="0.12">10<tspan dy="-1.8" font-size="3">3</tspan></text>
<line x1="306.50" y1="119.40" x2="307.30" y2="119.40" stroke="#555" stroke-width="0.4"/>
<text x="305.70" y="126.60" font-size="4.3" fill="#333" text-anchor="end" font-weight="normal" stroke="#333" stroke-width="0.12">0</text>
<line x1="306.50" y1="125.10" x2="307.30" y2="125.10" stroke="#555" stroke-width="0.4"/>
<text x="305.70" y="131.50" font-size="4.3" fill="#333" text-anchor="end" font-weight="normal" stroke="#333" stroke-width="0.12">-10<tspan dy="-1.8" font-size="3">3</tspan></text>
<line x1="306.50" y1="130.00" x2="307.30" y2="130.00" stroke="#555" stroke-width="0.4"/>
<text x="308.70" y="138.10" font-size="4.8" fill="#333" text-anchor="end" font-weight="normal" transform="rotate(-48 308.7 138.1)" stroke="#333" stroke-width="0.12">0</text>
<text x="315.70" y="138.10" font-size="4.8" fill="#333" text-anchor="end" font-weight="normal" transform="rotate(-48 315.7 138.1)" stroke="#333" stroke-width="0.12">50K</text>
<text x="322.70" y="138.10" font-size="4.8" fill="#333" text-anchor="end" font-weight="normal" transform="rotate(-48 322.7 138.1)" stroke="#333" stroke-width="0.12">100K</text>
<text x="329.70" y="138.10" font-size="4.8" fill="#333" text-anchor="end" font-weight="normal" transform="rotate(-48 329.7 138.1)" stroke="#333" stroke-width="0.12">150K</text>
<text x="336.70" y="138.10" font-size="4.8" fill="#333" text-anchor="end" font-weight="normal" transform="rotate(-48 336.7 138.1)" stroke="#333" stroke-width="0.12">200K</text>
<text x="343.70" y="138.10" font-size="4.8" fill="#333" text-anchor="end" font-weight="normal" transform="rotate(-48 343.7 138.1)" stroke="#333" stroke-width="0.12">250K</text>
<ellipse cx="41.29" cy="60.00" rx="7.50" ry="7.00" fill="#000" fill-opacity="0.045" stroke="#999" stroke-width="0.35"/>
<ellipse cx="41.08" cy="60.78" rx="5.83" ry="5.44" fill="#000" fill-opacity="0.045" stroke="#999" stroke-width="0.35"/>
<ellipse cx="41.68" cy="61.56" rx="4.17" ry="3.89" fill="#000" fill-opacity="0.045" stroke="#999" stroke-width="0.35"/>
<ellipse cx="40.99" cy="62.33" rx="2.50" ry="2.33" fill="#000" fill-opacity="0.045" stroke="#999" stroke-width="0.35"/>
<polygon points="40.00,55.50 35.50,66.50 44.50,66.50" fill="none" stroke="#999" stroke-width="0.4"/>
<ellipse cx="40.20" cy="71.60" rx="8.40" ry="3.30" fill="#000" fill-opacity="0.377" stroke="#000" stroke-width="0.5" stroke-opacity="0.55"/>
<ellipse cx="40.20" cy="71.60" rx="6.57" ry="2.58" fill="#000" fill-opacity="0.377" stroke="#000" stroke-width="0.5" stroke-opacity="0.55"/>
<ellipse cx="40.20" cy="71.60" rx="4.75" ry="1.87" fill="#000" fill-opacity="0.377" stroke="#000" stroke-width="0.5" stroke-opacity="0.55"/>
<ellipse cx="40.20" cy="71.60" rx="2.92" ry="1.15" fill="#000" fill-opacity="0.377" stroke="#000" stroke-width="0.5" stroke-opacity="0.55"/>
<ellipse cx="40.20" cy="71.60" rx="2.10" ry="0.66" fill="#fff" fill-opacity="0.6"/>
<ellipse cx="91.04" cy="60.50" rx="7.00" ry="6.50" fill="#000" fill-opacity="0.04" stroke="#aaa" stroke-width="0.35"/>
<ellipse cx="90.84" cy="61.43" rx="5.00" ry="4.64" fill="#000" fill-opacity="0.04" stroke="#aaa" stroke-width="0.35"/>
<ellipse cx="90.47" cy="62.36" rx="3.00" ry="2.79" fill="#000" fill-opacity="0.04" stroke="#aaa" stroke-width="0.35"/>
<polygon points="90.00,58.00 86.50,66.50 93.50,66.50" fill="none" stroke="#888" stroke-width="0.4"/>
<ellipse cx="90.70" cy="71.70" rx="8.00" ry="3.20" fill="#000" fill-opacity="0.377" stroke="#000" stroke-width="0.5" stroke-opacity="0.55"/>
<ellipse cx="90.70" cy="71.70" rx="6.26" ry="2.50" fill="#000" fill-opacity="0.377" stroke="#000" stroke-width="0.5" stroke-opacity="0.55"/>
<ellipse cx="90.70" cy="71.70" rx="4.52" ry="1.81" fill="#000" fill-opacity="0.377" stroke="#000" stroke-width="0.5" stroke-opacity="0.55"/>
<ellipse cx="90.70" cy="71.70" rx="2.78" ry="1.11" fill="#000" fill-opacity="0.377" stroke="#000" stroke-width="0.5" stroke-opacity="0.55"/>
<ellipse cx="90.70" cy="71.70" rx="2.00" ry="0.64" fill="#fff" fill-opacity="0.6"/>
<ellipse cx="141.01" cy="62.00" rx="4.50" ry="4.50" fill="#000" fill-opacity="0.02" stroke="#ccc" stroke-width="0.35"/>
<ellipse cx="140.44" cy="62.90" rx="2.70" ry="2.70" fill="#000" fill-opacity="0.02" stroke="#ccc" stroke-width="0.35"/>
<ellipse cx="141.00" cy="71.40" rx="7.60" ry="3.20" fill="#000" fill-opacity="0.609" stroke="#000" stroke-width="0.5" stroke-opacity="0.55"/>
<ellipse cx="141.00" cy="71.40" rx="5.95" ry="2.50" fill="#000" fill-opacity="0.609" stroke="#000" stroke-width="0.5" stroke-opacity="0.55"/>
<ellipse cx="141.00" cy="71.40" rx="4.30" ry="1.81" fill="#000" fill-opacity="0.609" stroke="#000" stroke-width="0.5" stroke-opacity="0.55"/>
<ellipse cx="141.00" cy="71.40" rx="2.64" ry="1.11" fill="#000" fill-opacity="0.609" stroke="#000" stroke-width="0.5" stroke-opacity="0.55"/>
<ellipse cx="141.00" cy="71.40" rx="1.67" ry="0.56" fill="#fff" fill-opacity="0.6"/>
<polygon points="37.60,116.80 35.40,122.60 39.80,122.60" fill="none" stroke="#777" stroke-width="0.45"/>
<ellipse cx="38.40" cy="127.90" rx="7.80" ry="4.80" fill="#000" fill-opacity="0.348" stroke="#000" stroke-width="0.5" stroke-opacity="0.55"/>
<ellipse cx="38.40" cy="127.90" rx="6.41" ry="3.94" fill="#000" fill-opacity="0.348" stroke="#000" stroke-width="0.5" stroke-opacity="0.55"/>
<ellipse cx="38.40" cy="127.90" rx="5.01" ry="3.09" fill="#000" fill-opacity="0.348" stroke="#000" stroke-width="0.5" stroke-opacity="0.55"/>
<ellipse cx="38.40" cy="127.90" rx="3.62" ry="2.23" fill="#000" fill-opacity="0.348" stroke="#000" stroke-width="0.5" stroke-opacity="0.55"/>
<ellipse cx="38.40" cy="127.90" rx="2.23" ry="1.37" fill="#000" fill-opacity="0.348" stroke="#000" stroke-width="0.5" stroke-opacity="0.55"/>
<ellipse cx="38.40" cy="127.90" rx="1.40" ry="0.69" fill="#fff" fill-opacity="0.6"/>
<ellipse cx="96.50" cy="128.40" rx="3.80" ry="3.00" fill="#000" fill-opacity="0.14" stroke="#555" stroke-width="0.4"/>
<ellipse cx="89.20" cy="128.00" rx="6.60" ry="4.50" fill="#000" fill-opacity="0.348" stroke="#000" stroke-width="0.5" stroke-opacity="0.55"/>
<ellipse cx="89.20" cy="128.00" rx="5.42" ry="3.70" fill="#000" fill-opacity="0.348" stroke="#000" stroke-width="0.5" stroke-opacity="0.55"/>
<ellipse cx="89.20" cy="128.00" rx="4.24" ry="2.89" fill="#000" fill-opacity="0.348" stroke="#000" stroke-width="0.5" stroke-opacity="0.55"/>
<ellipse cx="89.20" cy="128.00" rx="3.06" ry="2.09" fill="#000" fill-opacity="0.348" stroke="#000" stroke-width="0.5" stroke-opacity="0.55"/>
<ellipse cx="89.20" cy="128.00" rx="1.89" ry="1.29" fill="#000" fill-opacity="0.348" stroke="#000" stroke-width="0.5" stroke-opacity="0.55"/>
<ellipse cx="89.20" cy="128.00" rx="1.32" ry="0.72" fill="#fff" fill-opacity="0.6"/>
<ellipse cx="144.50" cy="127.60" rx="3.40" ry="3.20" fill="#000" fill-opacity="0.12" stroke="#666" stroke-width="0.4"/>
<ellipse cx="139.30" cy="127.60" rx="7.40" ry="4.40" fill="#000" fill-opacity="0.348" stroke="#000" stroke-width="0.5" stroke-opacity="0.55"/>
<ellipse cx="139.30" cy="127.60" rx="6.08" ry="3.61" fill="#000" fill-opacity="0.348" stroke="#000" stroke-width="0.5" stroke-opacity="0.55"/>
<ellipse cx="139.30" cy="127.60" rx="4.76" ry="2.83" fill="#000" fill-opacity="0.348" stroke="#000" stroke-width="0.5" stroke-opacity="0.55"/>
<ellipse cx="139.30" cy="127.60" rx="3.44" ry="2.04" fill="#000" fill-opacity="0.348" stroke="#000" stroke-width="0.5" stroke-opacity="0.55"/>
<ellipse cx="139.30" cy="127.60" rx="2.11" ry="1.26" fill="#000" fill-opacity="0.348" stroke="#000" stroke-width="0.5" stroke-opacity="0.55"/>
<ellipse cx="139.30" cy="127.60" rx="1.48" ry="0.70" fill="#fff" fill-opacity="0.6"/>
<ellipse cx="215.00" cy="58.25" rx="5.80" ry="9.75" fill="#000" fill-opacity="0.275" stroke="#999" stroke-width="0.35"/>
<ellipse cx="215.00" cy="58.75" rx="4.64" ry="7.44" fill="#000" fill-opacity="0.225" stroke="#777" stroke-width="0.35"/>
<ellipse cx="215.00" cy="59.25" rx="3.19" ry="5.69" fill="#000" fill-opacity="0.175" stroke="#666" stroke-width="0.35"/>
<line x1="215.00" y1="52.50" x2="215.00" y2="63.00" stroke="#fff" stroke-width="0.7" stroke-opacity="0.5"/>
<ellipse cx="215.00" cy="58.25" rx="0.90" ry="0.90" fill="#fff" fill-opacity="0.8"/>
<path d="M210.30,65.60 C210.30,67.60 209.40,70.80 209.90,72.30 C210.40,74.30 220.00,74.30 220.50,72.30 C221.00,70.80 220.10,67.60 220.10,65.60 Z" fill="#555" stroke="#111" stroke-width="1.1"/>
<ellipse cx="215.00" cy="70.30" rx="1.00" ry="0.90" fill="#fff" fill-opacity="0.9"/>
<ellipse cx="266.50" cy="58.50" rx="5.40" ry="9.50" fill="#000" fill-opacity="0.264" stroke="#999" stroke-width="0.35"/>
<ellipse cx="266.50" cy="59.00" rx="4.32" ry="7.22" fill="#000" fill-opacity="0.216" stroke="#777" stroke-width="0.35"/>
<ellipse cx="266.50" cy="59.50" rx="2.97" ry="5.53" fill="#000" fill-opacity="0.16799999999999998" stroke="#666" stroke-width="0.35"/>
<line x1="266.50" y1="53.00" x2="266.50" y2="63.00" stroke="#fff" stroke-width="0.7" stroke-opacity="0.5"/>
<ellipse cx="266.50" cy="58.50" rx="0.90" ry="0.90" fill="#fff" fill-opacity="0.8"/>
<path d="M260.60,65.60 C260.60,67.60 259.30,71.00 259.80,72.50 C260.30,74.50 271.70,74.50 272.20,72.50 C272.70,71.00 271.40,67.60 271.40,65.60 Z" fill="#444" stroke="#111" stroke-width="1.1"/>
<ellipse cx="266.30" cy="70.50" rx="1.00" ry="1.20" fill="#fff" fill-opacity="0.8"/>
<polygon points="318.00,51.50 313.40,65.00 322.60,65.00" fill="none" stroke="#777" stroke-width="0.5"/>
<polygon points="318.00,55.00 315.20,65.00 320.80,65.00" fill="none" stroke="#999" stroke-width="0.4"/>
<ellipse cx="318.00" cy="69.80" rx="8.60" ry="4.60" fill="#000" fill-opacity="0.435" stroke="#000" stroke-width="0.5" stroke-opacity="0.55"/>
<ellipse cx="318.00" cy="69.80" rx="7.06" ry="3.78" fill="#000" fill-opacity="0.435" stroke="#000" stroke-width="0.5" stroke-opacity="0.55"/>
<ellipse cx="318.00" cy="69.80" rx="5.53" ry="2.96" fill="#000" fill-opacity="0.435" stroke="#000" stroke-width="0.5" stroke-opacity="0.55"/>
<ellipse cx="318.00" cy="69.80" rx="3.99" ry="2.14" fill="#000" fill-opacity="0.435" stroke="#000" stroke-width="0.5" stroke-opacity="0.55"/>
<ellipse cx="318.00" cy="69.80" rx="2.46" ry="1.31" fill="#000" fill-opacity="0.435" stroke="#000" stroke-width="0.5" stroke-opacity="0.55"/>
<ellipse cx="318.00" cy="69.80" rx="1.55" ry="0.66" fill="#fff" fill-opacity="0.6"/>
<ellipse cx="213.60" cy="110.30" rx="4.60" ry="3.00" fill="#000" fill-opacity="0.319" stroke="#000" stroke-width="0.5" stroke-opacity="0.5"/>
<ellipse cx="213.60" cy="110.30" rx="3.32" ry="2.17" fill="#000" fill-opacity="0.319" stroke="#000" stroke-width="0.5" stroke-opacity="0.5"/>
<ellipse cx="213.60" cy="110.30" rx="2.04" ry="1.33" fill="#000" fill-opacity="0.319" stroke="#000" stroke-width="0.5" stroke-opacity="0.5"/>
<ellipse cx="213.60" cy="110.30" rx="1.38" ry="0.72" fill="#fff" fill-opacity="0.6"/>
<ellipse cx="213.80" cy="116.50" rx="4.40" ry="5.20" fill="#000" fill-opacity="0.5" stroke="#222" stroke-width="0.6"/>
<ellipse cx="214.00" cy="124.20" rx="6.60" ry="5.00" fill="#000" fill-opacity="0.435" stroke="#000" stroke-width="0.5" stroke-opacity="0.55"/>
<ellipse cx="214.00" cy="124.20" rx="5.42" ry="4.11" fill="#000" fill-opacity="0.435" stroke="#000" stroke-width="0.5" stroke-opacity="0.55"/>
<ellipse cx="214.00" cy="124.20" rx="4.24" ry="3.21" fill="#000" fill-opacity="0.435" stroke="#000" stroke-width="0.5" stroke-opacity="0.55"/>
<ellipse cx="214.00" cy="124.20" rx="3.06" ry="2.32" fill="#000" fill-opacity="0.435" stroke="#000" stroke-width="0.5" stroke-opacity="0.55"/>
<ellipse cx="214.00" cy="124.20" rx="1.89" ry="1.43" fill="#000" fill-opacity="0.435" stroke="#000" stroke-width="0.5" stroke-opacity="0.55"/>
<ellipse cx="214.00" cy="124.20" rx="0.99" ry="0.60" fill="#fff" fill-opacity="0.6"/>
<ellipse cx="264.50" cy="117.50" rx="3.80" ry="5.50" fill="#000" fill-opacity="0.275" stroke="#999" stroke-width="0.35"/>
<ellipse cx="264.50" cy="118.00" rx="3.04" ry="3.82" fill="#000" fill-opacity="0.225" stroke="#777" stroke-width="0.35"/>
<ellipse cx="264.50" cy="118.50" rx="2.09" ry="2.93" fill="#000" fill-opacity="0.175" stroke="#666" stroke-width="0.35"/>
<line x1="264.50" y1="116.00" x2="264.50" y2="118.00" stroke="#fff" stroke-width="0.7" stroke-opacity="0.5"/>
<ellipse cx="264.50" cy="117.50" rx="0.90" ry="0.90" fill="#fff" fill-opacity="0.8"/>
<ellipse cx="264.20" cy="110.80" rx="2.60" ry="4.20" fill="#000" fill-opacity="0.15" stroke="#222" stroke-width="1.2"/>
<ellipse cx="265.00" cy="124.50" rx="7.20" ry="4.30" fill="#000" fill-opacity="0.435" stroke="#000" stroke-width="0.5" stroke-opacity="0.55"/>
<ellipse cx="265.00" cy="124.50" rx="5.91" ry="3.53" fill="#000" fill-opacity="0.435" stroke="#000" stroke-width="0.5" stroke-opacity="0.55"/>
<ellipse cx="265.00" cy="124.50" rx="4.63" ry="2.76" fill="#000" fill-opacity="0.435" stroke="#000" stroke-width="0.5" stroke-opacity="0.55"/>
<ellipse cx="265.00" cy="124.50" rx="3.34" ry="2.00" fill="#000" fill-opacity="0.435" stroke="#000" stroke-width="0.5" stroke-opacity="0.55"/>
<ellipse cx="265.00" cy="124.50" rx="2.06" ry="1.23" fill="#000" fill-opacity="0.435" stroke="#000" stroke-width="0.5" stroke-opacity="0.55"/>
<ellipse cx="265.00" cy="124.50" rx="1.44" ry="0.69" fill="#fff" fill-opacity="0.6"/>
<ellipse cx="316.60" cy="107.60" rx="2.20" ry="1.40" fill="none" fill-opacity="1.0" stroke="#444" stroke-width="0.6"/>
<ellipse cx="322.20" cy="108.80" rx="0.90" ry="0.90" fill="#555" fill-opacity="0.8"/>
<ellipse cx="318.00" cy="116.30" rx="5.20" ry="3.80" fill="#000" fill-opacity="0.45" stroke="#333" stroke-width="0.5"/>
<ellipse cx="319.80" cy="124.10" rx="8.80" ry="4.70" fill="#000" fill-opacity="0.435" stroke="#000" stroke-width="0.5" stroke-opacity="0.55"/>
<ellipse cx="319.80" cy="124.10" rx="7.23" ry="3.86" fill="#000" fill-opacity="0.435" stroke="#000" stroke-width="0.5" stroke-opacity="0.55"/>
<ellipse cx="319.80" cy="124.10" rx="5.66" ry="3.02" fill="#000" fill-opacity="0.435" stroke="#000" stroke-width="0.5" stroke-opacity="0.55"/>
<ellipse cx="319.80" cy="124.10" rx="4.09" ry="2.18" fill="#000" fill-opacity="0.435" stroke="#000" stroke-width="0.5" stroke-opacity="0.55"/>
<ellipse cx="319.80" cy="124.10" rx="2.51" ry="1.34" fill="#000" fill-opacity="0.435" stroke="#000" stroke-width="0.5" stroke-opacity="0.55"/>
<ellipse cx="319.80" cy="124.10" rx="1.58" ry="0.68" fill="#fff" fill-opacity="0.6"/>
<text x="36.20" y="28.90" font-size="6.4" fill="#333" text-anchor="start" font-weight="normal" textLength="52.2" lengthAdjust="spacingAndGlyphs" stroke="#333" stroke-width="0.2">P815 coated with:</text>
<text x="211.70" y="28.90" font-size="6.4" fill="#333" text-anchor="start" font-weight="normal" textLength="52.2" lengthAdjust="spacingAndGlyphs" stroke="#333" stroke-width="0.2">P815 coated with:</text>
<text x="47.00" y="38.90" font-size="6.3" fill="#F3AE70" text-anchor="middle" font-weight="normal" textLength="21" lengthAdjust="spacingAndGlyphs">αCD16</text>
<text x="95.40" y="38.90" font-size="6.3" fill="#5DB85D" text-anchor="middle" font-weight="normal" textLength="18.2" lengthAdjust="spacingAndGlyphs">αNCR</text>
<text x="147.00" y="38.90" font-size="6.3" fill="#3C6EA8" text-anchor="middle" font-weight="normal" textLength="10.2" lengthAdjust="spacingAndGlyphs">IgG</text>
<text x="222.00" y="38.00" font-size="6.3" fill="#F3AE70" text-anchor="middle" font-weight="normal" textLength="21" lengthAdjust="spacingAndGlyphs">αCD16</text>
<text x="272.30" y="38.00" font-size="6.3" fill="#5DB85D" text-anchor="middle" font-weight="normal" textLength="18.2" lengthAdjust="spacingAndGlyphs">αNCR</text>
<text x="322.50" y="38.00" font-size="6.3" fill="#3C6EA8" text-anchor="middle" font-weight="normal" textLength="10.2" lengthAdjust="spacingAndGlyphs">IgG</text>
<text x="173.40" y="62.10" font-size="6.5" fill="#3C6EA8" text-anchor="middle" font-weight="normal" transform="rotate(90 173.4 62.1)" dominant-baseline="central" textLength="9.2" lengthAdjust="spacingAndGlyphs">HD</text>
<text x="173.40" y="117.80" font-size="6.5" fill="#D42A48" text-anchor="middle" font-weight="normal" transform="rotate(90 173.4 117.8)" dominant-baseline="central" textLength="21.8" lengthAdjust="spacingAndGlyphs">NDMM</text>
<text x="349.80" y="62.50" font-size="6.5" fill="#3C6EA8" text-anchor="middle" font-weight="normal" transform="rotate(90 349.8 62.5)" dominant-baseline="central" textLength="9.2" lengthAdjust="spacingAndGlyphs">HD</text>
<text x="349.80" y="116.50" font-size="6.5" fill="#D42A48" text-anchor="middle" font-weight="normal" transform="rotate(90 349.8 116.5)" dominant-baseline="central" textLength="21.8" lengthAdjust="spacingAndGlyphs">NDMM</text>
<text x="10.90" y="95.20" font-size="6.8" fill="#333" text-anchor="middle" font-weight="normal" transform="rotate(-90 10.9 95.2)" dominant-baseline="central" textLength="11.1" lengthAdjust="spacingAndGlyphs" stroke="#333" stroke-width="0.2">IFNγ</text>
<text x="185.30" y="95.80" font-size="6.4" fill="#333" text-anchor="middle" font-weight="normal" transform="rotate(-90 185.3 95.8)" dominant-baseline="central" textLength="18.2" lengthAdjust="spacingAndGlyphs" stroke="#333" stroke-width="0.2">CD107a</text>
<text x="92.50" y="157.50" font-size="7.6" fill="#333" text-anchor="middle" font-weight="normal" textLength="13.3" lengthAdjust="spacingAndGlyphs" stroke="#333" stroke-width="0.2">FSC-A</text>
<text x="268.50" y="156.00" font-size="7.6" fill="#333" text-anchor="middle" font-weight="normal" textLength="12.8" lengthAdjust="spacingAndGlyphs" stroke="#333" stroke-width="0.2">FSC-A</text>
<line x1="27.80" y1="192.80" x2="27.80" y2="228.00" stroke="#999" stroke-width="0.5" stroke-dasharray="0.6 0.9"/>
<line x1="27.80" y1="228.00" x2="62.30" y2="228.00" stroke="#999" stroke-width="0.5" stroke-dasharray="0.6 0.9"/>
<rect x="38.30" y="194.30" width="24.30" height="20.20" fill="none" stroke="#4a4a4a" stroke-width="0.65"/>
<text x="61.50" y="199.60" font-size="4.4" fill="#222" text-anchor="end" font-weight="normal" stroke="#222" stroke-width="0.12">3.8</text>
<text x="26.50" y="195.40" font-size="4.3" fill="#333" text-anchor="end" font-weight="normal" stroke="#333" stroke-width="0.12">10<tspan dy="-1.8" font-size="3">4</tspan></text>
<text x="26.50" y="203.30" font-size="4.3" fill="#333" text-anchor="end" font-weight="normal" stroke="#333" stroke-width="0.12">10<tspan dy="-1.8" font-size="3">3</tspan></text>
<text x="26.50" y="211.60" font-size="4.3" fill="#333" text-anchor="end" font-weight="normal" stroke="#333" stroke-width="0.12">10<tspan dy="-1.8" font-size="3">2</tspan></text>
<text x="26.50" y="219.20" font-size="4.3" fill="#333" text-anchor="end" font-weight="normal" stroke="#333" stroke-width="0.12">0</text>
<text x="26.50" y="227.70" font-size="4.3" fill="#333" text-anchor="end" font-weight="normal" stroke="#333" stroke-width="0.12">-10<tspan dy="-1.8" font-size="3">3</tspan></text>
<text x="32.00" y="234.60" font-size="4.3" fill="#333" text-anchor="middle" font-weight="normal" stroke="#333" stroke-width="0.12">0</text>
<text x="41.40" y="234.60" font-size="4.3" fill="#333" text-anchor="middle" font-weight="normal" stroke="#333" stroke-width="0.12">10<tspan dy="-1.8" font-size="3">4</tspan></text>
<text x="55.60" y="234.60" font-size="4.3" fill="#333" text-anchor="middle" font-weight="normal" stroke="#333" stroke-width="0.12">10<tspan dy="-1.8" font-size="3">5</tspan></text>
<line x1="28.30" y1="228.00" x2="31.80" y2="228.00" stroke="#222" stroke-width="1.0"/>
<line x1="27.80" y1="217.60" x2="27.80" y2="218.60" stroke="#222" stroke-width="0.9"/>
<line x1="79.70" y1="192.80" x2="79.70" y2="228.00" stroke="#999" stroke-width="0.5" stroke-dasharray="0.6 0.9"/>
<line x1="79.70" y1="228.00" x2="114.20" y2="228.00" stroke="#999" stroke-width="0.5" stroke-dasharray="0.6 0.9"/>
<rect x="90.20" y="194.30" width="24.30" height="20.20" fill="none" stroke="#4a4a4a" stroke-width="0.65"/>
<text x="113.40" y="199.60" font-size="4.4" fill="#222" text-anchor="end" font-weight="normal" stroke="#222" stroke-width="0.12">9.9</text>
<text x="78.40" y="195.40" font-size="4.3" fill="#333" text-anchor="end" font-weight="normal" stroke="#333" stroke-width="0.12">10<tspan dy="-1.8" font-size="3">4</tspan></text>
<text x="78.40" y="203.30" font-size="4.3" fill="#333" text-anchor="end" font-weight="normal" stroke="#333" stroke-width="0.12">10<tspan dy="-1.8" font-size="3">3</tspan></text>
<text x="78.40" y="211.60" font-size="4.3" fill="#333" text-anchor="end" font-weight="normal" stroke="#333" stroke-width="0.12">10<tspan dy="-1.8" font-size="3">2</tspan></text>
<text x="78.40" y="219.20" font-size="4.3" fill="#333" text-anchor="end" font-weight="normal" stroke="#333" stroke-width="0.12">0</text>
<text x="78.40" y="227.70" font-size="4.3" fill="#333" text-anchor="end" font-weight="normal" stroke="#333" stroke-width="0.12">-10<tspan dy="-1.8" font-size="3">3</tspan></text>
<text x="83.90" y="234.60" font-size="4.3" fill="#333" text-anchor="middle" font-weight="normal" stroke="#333" stroke-width="0.12">0</text>
<text x="93.30" y="234.60" font-size="4.3" fill="#333" text-anchor="middle" font-weight="normal" stroke="#333" stroke-width="0.12">10<tspan dy="-1.8" font-size="3">4</tspan></text>
<text x="107.50" y="234.60" font-size="4.3" fill="#333" text-anchor="middle" font-weight="normal" stroke="#333" stroke-width="0.12">10<tspan dy="-1.8" font-size="3">5</tspan></text>
<line x1="80.20" y1="228.00" x2="83.70" y2="228.00" stroke="#222" stroke-width="1.0"/>
<line x1="79.70" y1="217.60" x2="79.70" y2="218.60" stroke="#222" stroke-width="0.9"/>
<line x1="132.50" y1="192.80" x2="132.50" y2="228.00" stroke="#999" stroke-width="0.5" stroke-dasharray="0.6 0.9"/>
<line x1="132.50" y1="228.00" x2="167.00" y2="228.00" stroke="#999" stroke-width="0.5" stroke-dasharray="0.6 0.9"/>
<rect x="143.00" y="194.30" width="24.30" height="20.20" fill="none" stroke="#4a4a4a" stroke-width="0.65"/>
<text x="166.20" y="199.60" font-size="4.4" fill="#222" text-anchor="end" font-weight="normal" stroke="#222" stroke-width="0.12">29.7</text>
<text x="131.20" y="195.40" font-size="4.3" fill="#333" text-anchor="end" font-weight="normal" stroke="#333" stroke-width="0.12">10<tspan dy="-1.8" font-size="3">4</tspan></text>
<text x="131.20" y="203.30" font-size="4.3" fill="#333" text-anchor="end" font-weight="normal" stroke="#333" stroke-width="0.12">10<tspan dy="-1.8" font-size="3">3</tspan></text>
<text x="131.20" y="211.60" font-size="4.3" fill="#333" text-anchor="end" font-weight="normal" stroke="#333" stroke-width="0.12">10<tspan dy="-1.8" font-size="3">2</tspan></text>
<text x="131.20" y="219.20" font-size="4.3" fill="#333" text-anchor="end" font-weight="normal" stroke="#333" stroke-width="0.12">0</text>
<text x="131.20" y="227.70" font-size="4.3" fill="#333" text-anchor="end" font-weight="normal" stroke="#333" stroke-width="0.12">-10<tspan dy="-1.8" font-size="3">3</tspan></text>
<text x="136.70" y="234.60" font-size="4.3" fill="#333" text-anchor="middle" font-weight="normal" stroke="#333" stroke-width="0.12">0</text>
<text x="146.10" y="234.60" font-size="4.3" fill="#333" text-anchor="middle" font-weight="normal" stroke="#333" stroke-width="0.12">10<tspan dy="-1.8" font-size="3">4</tspan></text>
<text x="160.30" y="234.60" font-size="4.3" fill="#333" text-anchor="middle" font-weight="normal" stroke="#333" stroke-width="0.12">10<tspan dy="-1.8" font-size="3">5</tspan></text>
<line x1="133.00" y1="228.00" x2="136.50" y2="228.00" stroke="#222" stroke-width="1.0"/>
<line x1="132.50" y1="217.60" x2="132.50" y2="218.60" stroke="#222" stroke-width="0.9"/>
<line x1="184.50" y1="192.80" x2="184.50" y2="228.00" stroke="#999" stroke-width="0.5" stroke-dasharray="0.6 0.9"/>
<line x1="184.50" y1="228.00" x2="219.00" y2="228.00" stroke="#999" stroke-width="0.5" stroke-dasharray="0.6 0.9"/>
<rect x="195.00" y="194.30" width="24.30" height="20.20" fill="none" stroke="#4a4a4a" stroke-width="0.65"/>
<text x="218.20" y="199.60" font-size="4.4" fill="#222" text-anchor="end" font-weight="normal" stroke="#222" stroke-width="0.12">7.9</text>
<text x="183.20" y="195.40" font-size="4.3" fill="#333" text-anchor="end" font-weight="normal" stroke="#333" stroke-width="0.12">10<tspan dy="-1.8" font-size="3">4</tspan></text>
<text x="183.20" y="203.30" font-size="4.3" fill="#333" text-anchor="end" font-weight="normal" stroke="#333" stroke-width="0.12">10<tspan dy="-1.8" font-size="3">3</tspan></text>
<text x="183.20" y="211.60" font-size="4.3" fill="#333" text-anchor="end" font-weight="normal" stroke="#333" stroke-width="0.12">10<tspan dy="-1.8" font-size="3">2</tspan></text>
<text x="183.20" y="219.20" font-size="4.3" fill="#333" text-anchor="end" font-weight="normal" stroke="#333" stroke-width="0.12">0</text>
<text x="183.20" y="227.70" font-size="4.3" fill="#333" text-anchor="end" font-weight="normal" stroke="#333" stroke-width="0.12">-10<tspan dy="-1.8" font-size="3">3</tspan></text>
<text x="188.70" y="234.60" font-size="4.3" fill="#333" text-anchor="middle" font-weight="normal" stroke="#333" stroke-width="0.12">0</text>
<text x="198.10" y="234.60" font-size="4.3" fill="#333" text-anchor="middle" font-weight="normal" stroke="#333" stroke-width="0.12">10<tspan dy="-1.8" font-size="3">4</tspan></text>
<text x="212.30" y="234.60" font-size="4.3" fill="#333" text-anchor="middle" font-weight="normal" stroke="#333" stroke-width="0.12">10<tspan dy="-1.8" font-size="3">5</tspan></text>
<line x1="185.00" y1="228.00" x2="188.50" y2="228.00" stroke="#222" stroke-width="1.0"/>
<line x1="184.50" y1="217.60" x2="184.50" y2="218.60" stroke="#222" stroke-width="0.9"/>
<line x1="236.80" y1="192.80" x2="236.80" y2="228.00" stroke="#999" stroke-width="0.5" stroke-dasharray="0.6 0.9"/>
<line x1="236.80" y1="228.00" x2="271.30" y2="228.00" stroke="#999" stroke-width="0.5" stroke-dasharray="0.6 0.9"/>
<rect x="247.30" y="194.30" width="24.30" height="20.20" fill="none" stroke="#4a4a4a" stroke-width="0.65"/>
<text x="270.50" y="199.60" font-size="4.4" fill="#222" text-anchor="end" font-weight="normal" stroke="#222" stroke-width="0.12">16.9</text>
<text x="235.50" y="195.40" font-size="4.3" fill="#333" text-anchor="end" font-weight="normal" stroke="#333" stroke-width="0.12">10<tspan dy="-1.8" font-size="3">4</tspan></text>
<text x="235.50" y="203.30" font-size="4.3" fill="#333" text-anchor="end" font-weight="normal" stroke="#333" stroke-width="0.12">10<tspan dy="-1.8" font-size="3">3</tspan></text>
<text x="235.50" y="211.60" font-size="4.3" fill="#333" text-anchor="end" font-weight="normal" stroke="#333" stroke-width="0.12">10<tspan dy="-1.8" font-size="3">2</tspan></text>
<text x="235.50" y="219.20" font-size="4.3" fill="#333" text-anchor="end" font-weight="normal" stroke="#333" stroke-width="0.12">0</text>
<text x="235.50" y="227.70" font-size="4.3" fill="#333" text-anchor="end" font-weight="normal" stroke="#333" stroke-width="0.12">-10<tspan dy="-1.8" font-size="3">3</tspan></text>
<text x="241.00" y="234.60" font-size="4.3" fill="#333" text-anchor="middle" font-weight="normal" stroke="#333" stroke-width="0.12">0</text>
<text x="250.40" y="234.60" font-size="4.3" fill="#333" text-anchor="middle" font-weight="normal" stroke="#333" stroke-width="0.12">10<tspan dy="-1.8" font-size="3">4</tspan></text>
<text x="264.60" y="234.60" font-size="4.3" fill="#333" text-anchor="middle" font-weight="normal" stroke="#333" stroke-width="0.12">10<tspan dy="-1.8" font-size="3">5</tspan></text>
<line x1="237.30" y1="228.00" x2="240.80" y2="228.00" stroke="#222" stroke-width="1.0"/>
<line x1="236.80" y1="217.60" x2="236.80" y2="218.60" stroke="#222" stroke-width="0.9"/>
<line x1="27.80" y1="245.40" x2="27.80" y2="280.60" stroke="#999" stroke-width="0.5" stroke-dasharray="0.6 0.9"/>
<line x1="27.80" y1="280.60" x2="62.30" y2="280.60" stroke="#999" stroke-width="0.5" stroke-dasharray="0.6 0.9"/>
<rect x="38.30" y="246.90" width="24.30" height="20.20" fill="none" stroke="#4a4a4a" stroke-width="0.65"/>
<text x="61.50" y="252.20" font-size="4.4" fill="#222" text-anchor="end" font-weight="normal" stroke="#222" stroke-width="0.12">3.2</text>
<text x="26.50" y="248.00" font-size="4.3" fill="#333" text-anchor="end" font-weight="normal" stroke="#333" stroke-width="0.12">10<tspan dy="-1.8" font-size="3">4</tspan></text>
<text x="26.50" y="255.90" font-size="4.3" fill="#333" text-anchor="end" font-weight="normal" stroke="#333" stroke-width="0.12">10<tspan dy="-1.8" font-size="3">3</tspan></text>
<text x="26.50" y="264.20" font-size="4.3" fill="#333" text-anchor="end" font-weight="normal" stroke="#333" stroke-width="0.12">10<tspan dy="-1.8" font-size="3">2</tspan></text>
<text x="26.50" y="271.80" font-size="4.3" fill="#333" text-anchor="end" font-weight="normal" stroke="#333" stroke-width="0.12">0</text>
<text x="26.50" y="280.30" font-size="4.3" fill="#333" text-anchor="end" font-weight="normal" stroke="#333" stroke-width="0.12">-10<tspan dy="-1.8" font-size="3">3</tspan></text>
<text x="32.00" y="287.20" font-size="4.3" fill="#333" text-anchor="middle" font-weight="normal" stroke="#333" stroke-width="0.12">0</text>
<text x="41.40" y="287.20" font-size="4.3" fill="#333" text-anchor="middle" font-weight="normal" stroke="#333" stroke-width="0.12">10<tspan dy="-1.8" font-size="3">4</tspan></text>
<text x="55.60" y="287.20" font-size="4.3" fill="#333" text-anchor="middle" font-weight="normal" stroke="#333" stroke-width="0.12">10<tspan dy="-1.8" font-size="3">5</tspan></text>
<line x1="28.30" y1="280.60" x2="31.80" y2="280.60" stroke="#222" stroke-width="1.0"/>
<line x1="27.80" y1="270.20" x2="27.80" y2="271.20" stroke="#222" stroke-width="0.9"/>
<line x1="79.70" y1="245.40" x2="79.70" y2="280.60" stroke="#999" stroke-width="0.5" stroke-dasharray="0.6 0.9"/>
<line x1="79.70" y1="280.60" x2="114.20" y2="280.60" stroke="#999" stroke-width="0.5" stroke-dasharray="0.6 0.9"/>
<rect x="90.20" y="246.90" width="24.30" height="20.20" fill="none" stroke="#4a4a4a" stroke-width="0.65"/>
<text x="113.40" y="252.20" font-size="4.4" fill="#222" text-anchor="end" font-weight="normal" stroke="#222" stroke-width="0.12">5.4</text>
<text x="78.40" y="248.00" font-size="4.3" fill="#333" text-anchor="end" font-weight="normal" stroke="#333" stroke-width="0.12">10<tspan dy="-1.8" font-size="3">4</tspan></text>
<text x="78.40" y="255.90" font-size="4.3" fill="#333" text-anchor="end" font-weight="normal" stroke="#333" stroke-width="0.12">10<tspan dy="-1.8" font-size="3">3</tspan></text>
<text x="78.40" y="264.20" font-size="4.3" fill="#333" text-anchor="end" font-weight="normal" stroke="#333" stroke-width="0.12">10<tspan dy="-1.8" font-size="3">2</tspan></text>
<text x="78.40" y="271.80" font-size="4.3" fill="#333" text-anchor="end" font-weight="normal" stroke="#333" stroke-width="0.12">0</text>
<text x="78.40" y="280.30" font-size="4.3" fill="#333" text-anchor="end" font-weight="normal" stroke="#333" stroke-width="0.12">-10<tspan dy="-1.8" font-size="3">3</tspan></text>
<text x="83.90" y="287.20" font-size="4.3" fill="#333" text-anchor="middle" font-weight="normal" stroke="#333" stroke-width="0.12">0</text>
<text x="93.30" y="287.20" font-size="4.3" fill="#333" text-anchor="middle" font-weight="normal" stroke="#333" stroke-width="0.12">10<tspan dy="-1.8" font-size="3">4</tspan></text>
<text x="107.50" y="287.20" font-size="4.3" fill="#333" text-anchor="middle" font-weight="normal" stroke="#333" stroke-width="0.12">10<tspan dy="-1.8" font-size="3">5</tspan></text>
<line x1="80.20" y1="280.60" x2="83.70" y2="280.60" stroke="#222" stroke-width="1.0"/>
<line x1="79.70" y1="270.20" x2="79.70" y2="271.20" stroke="#222" stroke-width="0.9"/>
<line x1="132.50" y1="245.40" x2="132.50" y2="280.60" stroke="#999" stroke-width="0.5" stroke-dasharray="0.6 0.9"/>
<line x1="132.50" y1="280.60" x2="167.00" y2="280.60" stroke="#999" stroke-width="0.5" stroke-dasharray="0.6 0.9"/>
<rect x="143.00" y="246.90" width="24.30" height="20.20" fill="none" stroke="#4a4a4a" stroke-width="0.65"/>
<text x="166.20" y="252.20" font-size="4.4" fill="#222" text-anchor="end" font-weight="normal" stroke="#222" stroke-width="0.12">8.6</text>
<text x="131.20" y="248.00" font-size="4.3" fill="#333" text-anchor="end" font-weight="normal" stroke="#333" stroke-width="0.12">10<tspan dy="-1.8" font-size="3">4</tspan></text>
<text x="131.20" y="255.90" font-size="4.3" fill="#333" text-anchor="end" font-weight="normal" stroke="#333" stroke-width="0.12">10<tspan dy="-1.8" font-size="3">3</tspan></text>
<text x="131.20" y="264.20" font-size="4.3" fill="#333" text-anchor="end" font-weight="normal" stroke="#333" stroke-width="0.12">10<tspan dy="-1.8" font-size="3">2</tspan></text>
<text x="131.20" y="271.80" font-size="4.3" fill="#333" text-anchor="end" font-weight="normal" stroke="#333" stroke-width="0.12">0</text>
<text x="131.20" y="280.30" font-size="4.3" fill="#333" text-anchor="end" font-weight="normal" stroke="#333" stroke-width="0.12">-10<tspan dy="-1.8" font-size="3">3</tspan></text>
<text x="136.70" y="287.20" font-size="4.3" fill="#333" text-anchor="middle" font-weight="normal" stroke="#333" stroke-width="0.12">0</text>
<text x="146.10" y="287.20" font-size="4.3" fill="#333" text-anchor="middle" font-weight="normal" stroke="#333" stroke-width="0.12">10<tspan dy="-1.8" font-size="3">4</tspan></text>
<text x="160.30" y="287.20" font-size="4.3" fill="#333" text-anchor="middle" font-weight="normal" stroke="#333" stroke-width="0.12">10<tspan dy="-1.8" font-size="3">5</tspan></text>
<line x1="133.00" y1="280.60" x2="136.50" y2="280.60" stroke="#222" stroke-width="1.0"/>
<line x1="132.50" y1="270.20" x2="132.50" y2="271.20" stroke="#222" stroke-width="0.9"/>
<line x1="184.50" y1="245.40" x2="184.50" y2="280.60" stroke="#999" stroke-width="0.5" stroke-dasharray="0.6 0.9"/>
<line x1="184.50" y1="280.60" x2="219.00" y2="280.60" stroke="#999" stroke-width="0.5" stroke-dasharray="0.6 0.9"/>
<rect x="195.00" y="246.90" width="24.30" height="20.20" fill="none" stroke="#4a4a4a" stroke-width="0.65"/>
<text x="218.20" y="252.20" font-size="4.4" fill="#222" text-anchor="end" font-weight="normal" stroke="#222" stroke-width="0.12">5.4</text>
<text x="183.20" y="248.00" font-size="4.3" fill="#333" text-anchor="end" font-weight="normal" stroke="#333" stroke-width="0.12">10<tspan dy="-1.8" font-size="3">4</tspan></text>
<text x="183.20" y="255.90" font-size="4.3" fill="#333" text-anchor="end" font-weight="normal" stroke="#333" stroke-width="0.12">10<tspan dy="-1.8" font-size="3">3</tspan></text>
<text x="183.20" y="264.20" font-size="4.3" fill="#333" text-anchor="end" font-weight="normal" stroke="#333" stroke-width="0.12">10<tspan dy="-1.8" font-size="3">2</tspan></text>
<text x="183.20" y="271.80" font-size="4.3" fill="#333" text-anchor="end" font-weight="normal" stroke="#333" stroke-width="0.12">0</text>
<text x="183.20" y="280.30" font-size="4.3" fill="#333" text-anchor="end" font-weight="normal" stroke="#333" stroke-width="0.12">-10<tspan dy="-1.8" font-size="3">3</tspan></text>
<text x="188.70" y="287.20" font-size="4.3" fill="#333" text-anchor="middle" font-weight="normal" stroke="#333" stroke-width="0.12">0</text>
<text x="198.10" y="287.20" font-size="4.3" fill="#333" text-anchor="middle" font-weight="normal" stroke="#333" stroke-width="0.12">10<tspan dy="-1.8" font-size="3">4</tspan></text>
<text x="212.30" y="287.20" font-size="4.3" fill="#333" text-anchor="middle" font-weight="normal" stroke="#333" stroke-width="0.12">10<tspan dy="-1.8" font-size="3">5</tspan></text>
<line x1="185.00" y1="280.60" x2="188.50" y2="280.60" stroke="#222" stroke-width="1.0"/>
<line x1="184.50" y1="270.20" x2="184.50" y2="271.20" stroke="#222" stroke-width="0.9"/>
<line x1="236.80" y1="245.40" x2="236.80" y2="280.60" stroke="#999" stroke-width="0.5" stroke-dasharray="0.6 0.9"/>
<line x1="236.80" y1="280.60" x2="271.30" y2="280.60" stroke="#999" stroke-width="0.5" stroke-dasharray="0.6 0.9"/>
<rect x="247.30" y="246.90" width="24.30" height="20.20" fill="none" stroke="#4a4a4a" stroke-width="0.65"/>
<text x="270.50" y="252.20" font-size="4.4" fill="#222" text-anchor="end" font-weight="normal" stroke="#222" stroke-width="0.12">7.4</text>
<text x="235.50" y="248.00" font-size="4.3" fill="#333" text-anchor="end" font-weight="normal" stroke="#333" stroke-width="0.12">10<tspan dy="-1.8" font-size="3">4</tspan></text>
<text x="235.50" y="255.90" font-size="4.3" fill="#333" text-anchor="end" font-weight="normal" stroke="#333" stroke-width="0.12">10<tspan dy="-1.8" font-size="3">3</tspan></text>
<text x="235.50" y="264.20" font-size="4.3" fill="#333" text-anchor="end" font-weight="normal" stroke="#333" stroke-width="0.12">10<tspan dy="-1.8" font-size="3">2</tspan></text>
<text x="235.50" y="271.80" font-size="4.3" fill="#333" text-anchor="end" font-weight="normal" stroke="#333" stroke-width="0.12">0</text>
<text x="235.50" y="280.30" font-size="4.3" fill="#333" text-anchor="end" font-weight="normal" stroke="#333" stroke-width="0.12">-10<tspan dy="-1.8" font-size="3">3</tspan></text>
<text x="241.00" y="287.20" font-size="4.3" fill="#333" text-anchor="middle" font-weight="normal" stroke="#333" stroke-width="0.12">0</text>
<text x="250.40" y="287.20" font-size="4.3" fill="#333" text-anchor="middle" font-weight="normal" stroke="#333" stroke-width="0.12">10<tspan dy="-1.8" font-size="3">4</tspan></text>
<text x="264.60" y="287.20" font-size="4.3" fill="#333" text-anchor="middle" font-weight="normal" stroke="#333" stroke-width="0.12">10<tspan dy="-1.8" font-size="3">5</tspan></text>
<line x1="237.30" y1="280.60" x2="240.80" y2="280.60" stroke="#222" stroke-width="1.0"/>
<line x1="236.80" y1="270.20" x2="236.80" y2="271.20" stroke="#222" stroke-width="0.9"/>
<text x="44.70" y="189.60" font-size="6.6" fill="#222" text-anchor="middle" font-weight="normal" textLength="8" lengthAdjust="spacingAndGlyphs" stroke="#222" stroke-width="0.2">NS</text>
<text x="96.60" y="189.60" font-size="6.6" fill="#222" text-anchor="middle" font-weight="normal" textLength="18.3" lengthAdjust="spacingAndGlyphs" stroke="#222" stroke-width="0.2">MOLP8</text>
<text x="149.40" y="189.60" font-size="6.6" fill="#222" text-anchor="middle" font-weight="normal" textLength="36" lengthAdjust="spacingAndGlyphs" stroke="#222" stroke-width="0.2">+isatuximab</text>
<text x="201.40" y="189.60" font-size="6.6" fill="#222" text-anchor="middle" font-weight="normal" textLength="30.8" lengthAdjust="spacingAndGlyphs" stroke="#222" stroke-width="0.2">RPMI8226</text>
<text x="253.70" y="189.60" font-size="6.6" fill="#222" text-anchor="middle" font-weight="normal" textLength="35.5" lengthAdjust="spacingAndGlyphs" stroke="#222" stroke-width="0.2">+isatuximab</text>
<ellipse cx="39.50" cy="203.43" rx="5.00" ry="5.50" fill="#000" fill-opacity="0.05" stroke="#aaa" stroke-width="0.4"/>
<ellipse cx="39.05" cy="203.07" rx="3.48" ry="3.83" fill="#000" fill-opacity="0.05" stroke="#aaa" stroke-width="0.4"/>
<ellipse cx="38.59" cy="203.09" rx="1.97" ry="2.17" fill="#000" fill-opacity="0.05" stroke="#aaa" stroke-width="0.4"/>
<ellipse cx="33.50" cy="205.80" rx="4.30" ry="9.10" fill="url(#gi)" fill-opacity="0.92"/>
<ellipse cx="33.50" cy="205.80" rx="4.17" ry="8.83" fill="none" fill-opacity="1.0" stroke="#111" stroke-width="0.6" stroke-opacity="0.9"/>
<ellipse cx="33.50" cy="205.80" rx="2.58" ry="6.37" fill="none" fill-opacity="1.0" stroke="#888" stroke-width="0.4" stroke-opacity="0.8"/>
<ellipse cx="95.50" cy="204.42" rx="10.50" ry="6.00" fill="#000" fill-opacity="0.05" stroke="#aaa" stroke-width="0.4"/>
<ellipse cx="94.77" cy="204.83" rx="8.06" ry="4.60" fill="#000" fill-opacity="0.05" stroke="#aaa" stroke-width="0.4"/>
<ellipse cx="94.03" cy="204.12" rx="5.62" ry="3.21" fill="#000" fill-opacity="0.05" stroke="#aaa" stroke-width="0.4"/>
<ellipse cx="93.30" cy="204.22" rx="3.17" ry="1.81" fill="#000" fill-opacity="0.05" stroke="#aaa" stroke-width="0.4"/>
<ellipse cx="85.90" cy="206.00" rx="4.30" ry="8.80" fill="url(#gi)" fill-opacity="0.92"/>
<ellipse cx="85.90" cy="206.00" rx="4.17" ry="8.54" fill="none" fill-opacity="1.0" stroke="#111" stroke-width="0.6" stroke-opacity="0.9"/>
<ellipse cx="85.90" cy="206.00" rx="2.58" ry="6.16" fill="none" fill-opacity="1.0" stroke="#888" stroke-width="0.4" stroke-opacity="0.8"/>
<ellipse cx="152.50" cy="205.63" rx="12.50" ry="7.20" fill="#000" fill-opacity="0.09" stroke="#666" stroke-width="0.4"/>
<ellipse cx="151.79" cy="205.95" rx="10.14" ry="5.84" fill="#000" fill-opacity="0.09" stroke="#666" stroke-width="0.4"/>
<ellipse cx="151.08" cy="205.58" rx="7.78" ry="4.48" fill="#000" fill-opacity="0.09" stroke="#666" stroke-width="0.4"/>
<ellipse cx="150.38" cy="205.40" rx="5.42" ry="3.12" fill="#000" fill-opacity="0.09" stroke="#666" stroke-width="0.4"/>
<ellipse cx="149.67" cy="205.98" rx="3.07" ry="1.77" fill="#000" fill-opacity="0.09" stroke="#666" stroke-width="0.4"/>
<ellipse cx="139.60" cy="205.80" rx="5.80" ry="9.40" fill="url(#gi)" fill-opacity="0.92"/>
<ellipse cx="139.60" cy="205.80" rx="5.63" ry="9.12" fill="none" fill-opacity="1.0" stroke="#111" stroke-width="0.6" stroke-opacity="0.9"/>
<ellipse cx="139.60" cy="205.80" rx="3.48" ry="6.58" fill="none" fill-opacity="1.0" stroke="#888" stroke-width="0.4" stroke-opacity="0.8"/>
<ellipse cx="203.00" cy="204.05" rx="8.50" ry="6.00" fill="#000" fill-opacity="0.04" stroke="#999" stroke-width="0.4"/>
<ellipse cx="202.23" cy="204.86" rx="5.92" ry="4.18" fill="#000" fill-opacity="0.04" stroke="#999" stroke-width="0.4"/>
<ellipse cx="201.45" cy="204.29" rx="3.35" ry="2.36" fill="#000" fill-opacity="0.04" stroke="#999" stroke-width="0.4"/>
<ellipse cx="190.40" cy="205.60" rx="4.10" ry="8.50" fill="url(#gi)" fill-opacity="0.92"/>
<ellipse cx="190.40" cy="205.60" rx="3.98" ry="8.24" fill="none" fill-opacity="1.0" stroke="#111" stroke-width="0.6" stroke-opacity="0.9"/>
<ellipse cx="190.40" cy="205.60" rx="2.46" ry="5.95" fill="none" fill-opacity="1.0" stroke="#888" stroke-width="0.4" stroke-opacity="0.8"/>
<ellipse cx="256.00" cy="205.14" rx="12.50" ry="7.00" fill="#000" fill-opacity="0.09" stroke="#666" stroke-width="0.4"/>
<ellipse cx="255.29" cy="205.12" rx="10.14" ry="5.68" fill="#000" fill-opacity="0.09" stroke="#666" stroke-width="0.4"/>
<ellipse cx="254.58" cy="205.31" rx="7.78" ry="4.36" fill="#000" fill-opacity="0.09" stroke="#666" stroke-width="0.4"/>
<ellipse cx="253.88" cy="205.82" rx="5.42" ry="3.04" fill="#000" fill-opacity="0.09" stroke="#666" stroke-width="0.4"/>
<ellipse cx="253.17" cy="205.18" rx="3.07" ry="1.72" fill="#000" fill-opacity="0.09" stroke="#666" stroke-width="0.4"/>
<ellipse cx="243.20" cy="205.80" rx="4.70" ry="8.40" fill="url(#gi)" fill-opacity="0.92"/>
<ellipse cx="243.20" cy="205.80" rx="4.56" ry="8.15" fill="none" fill-opacity="1.0" stroke="#111" stroke-width="0.6" stroke-opacity="0.9"/>
<ellipse cx="243.20" cy="205.80" rx="2.82" ry="5.88" fill="none" fill-opacity="1.0" stroke="#888" stroke-width="0.4" stroke-opacity="0.8"/>
<ellipse cx="32.40" cy="259.80" rx="3.50" ry="6.80" fill="url(#gi)" fill-opacity="0.92"/>
<ellipse cx="32.40" cy="259.80" rx="3.40" ry="6.60" fill="none" fill-opacity="1.0" stroke="#111" stroke-width="0.6" stroke-opacity="0.9"/>
<ellipse cx="32.40" cy="259.80" rx="2.10" ry="4.76" fill="none" fill-opacity="1.0" stroke="#888" stroke-width="0.4" stroke-opacity="0.8"/>
<ellipse cx="89.50" cy="258.08" rx="3.50" ry="4.50" fill="#000" fill-opacity="0.03" stroke="#999" stroke-width="0.4"/>
<ellipse cx="89.04" cy="258.14" rx="1.98" ry="2.54" fill="#000" fill-opacity="0.03" stroke="#999" stroke-width="0.4"/>
<ellipse cx="84.80" cy="259.50" rx="3.70" ry="7.00" fill="url(#gi)" fill-opacity="0.92"/>
<ellipse cx="84.80" cy="259.50" rx="3.59" ry="6.79" fill="none" fill-opacity="1.0" stroke="#111" stroke-width="0.6" stroke-opacity="0.9"/>
<ellipse cx="84.80" cy="259.50" rx="2.22" ry="4.90" fill="none" fill-opacity="1.0" stroke="#888" stroke-width="0.4" stroke-opacity="0.8"/>
<ellipse cx="154.00" cy="253.87" rx="11.00" ry="6.00" fill="#000" fill-opacity="0.08" stroke="#777" stroke-width="0.4"/>
<ellipse cx="153.23" cy="254.05" rx="8.44" ry="4.60" fill="#000" fill-opacity="0.08" stroke="#777" stroke-width="0.4"/>
<ellipse cx="152.47" cy="253.56" rx="5.88" ry="3.21" fill="#000" fill-opacity="0.08" stroke="#777" stroke-width="0.4"/>
<ellipse cx="151.70" cy="253.56" rx="3.33" ry="1.81" fill="#000" fill-opacity="0.08" stroke="#777" stroke-width="0.4"/>
<ellipse cx="136.60" cy="258.00" rx="4.40" ry="8.20" fill="url(#gi)" fill-opacity="0.92"/>
<ellipse cx="136.60" cy="258.00" rx="4.27" ry="7.95" fill="none" fill-opacity="1.0" stroke="#111" stroke-width="0.6" stroke-opacity="0.9"/>
<ellipse cx="136.60" cy="258.00" rx="2.64" ry="5.74" fill="none" fill-opacity="1.0" stroke="#888" stroke-width="0.4" stroke-opacity="0.8"/>
<ellipse cx="189.20" cy="259.60" rx="3.40" ry="7.00" fill="url(#gi)" fill-opacity="0.92"/>
<ellipse cx="189.20" cy="259.60" rx="3.30" ry="6.79" fill="none" fill-opacity="1.0" stroke="#111" stroke-width="0.6" stroke-opacity="0.9"/>
<ellipse cx="189.20" cy="259.60" rx="2.04" ry="4.90" fill="none" fill-opacity="1.0" stroke="#888" stroke-width="0.4" stroke-opacity="0.8"/>
<ellipse cx="247.50" cy="258.21" rx="4.50" ry="4.00" fill="#000" fill-opacity="0.05" stroke="#999" stroke-width="0.4"/>
<ellipse cx="247.09" cy="258.68" rx="3.14" ry="2.79" fill="#000" fill-opacity="0.05" stroke="#999" stroke-width="0.4"/>
<ellipse cx="246.68" cy="258.43" rx="1.77" ry="1.58" fill="#000" fill-opacity="0.05" stroke="#999" stroke-width="0.4"/>
<ellipse cx="241.50" cy="259.00" rx="3.90" ry="7.30" fill="url(#gi)" fill-opacity="0.92"/>
<ellipse cx="241.50" cy="259.00" rx="3.78" ry="7.08" fill="none" fill-opacity="1.0" stroke="#111" stroke-width="0.6" stroke-opacity="0.9"/>
<ellipse cx="241.50" cy="259.00" rx="2.34" ry="5.11" fill="none" fill-opacity="1.0" stroke="#888" stroke-width="0.4" stroke-opacity="0.8"/>
<text x="278.80" y="211.40" font-size="6.5" fill="#3C6EA8" text-anchor="middle" font-weight="normal" transform="rotate(90 278.8 211.4)" dominant-baseline="central" textLength="9.0" lengthAdjust="spacingAndGlyphs">HD</text>
<text x="278.90" y="262.80" font-size="6.5" fill="#D42A48" text-anchor="middle" font-weight="normal" transform="rotate(90 278.9 262.8)" dominant-baseline="central" textLength="22.0" lengthAdjust="spacingAndGlyphs">NDMM</text>
<text x="10.00" y="236.30" font-size="7.0" fill="#333" text-anchor="middle" font-weight="normal" transform="rotate(-90 10.0 236.3)" dominant-baseline="central" textLength="13.6" lengthAdjust="spacingAndGlyphs" stroke="#333" stroke-width="0.2">CD56</text>
<text x="149.40" y="297.60" font-size="7.0" fill="#333" text-anchor="middle" font-weight="normal" textLength="18.4" lengthAdjust="spacingAndGlyphs" stroke="#333" stroke-width="0.2">CD107a</text>
<text x="427.60" y="30.20" font-size="8.6" fill="#3C6EA8" text-anchor="middle" font-weight="normal" textLength="12.2" lengthAdjust="spacingAndGlyphs">HD</text>
<text x="492.40" y="30.20" font-size="8.6" fill="#D42A48" text-anchor="middle" font-weight="normal" textLength="28.6" lengthAdjust="spacingAndGlyphs">NDMM</text>
<line x1="407.30" y1="37.40" x2="407.30" y2="112.30" stroke="#222" stroke-width="1.2"/>
<line x1="404.70" y1="112.30" x2="407.30" y2="112.30" stroke="#222" stroke-width="1.2"/>
<text x="402.30" y="114.68" font-size="6.6" fill="#333" text-anchor="end" font-weight="normal" stroke="#333" stroke-width="0.2">0</text>
<line x1="404.70" y1="87.50" x2="407.30" y2="87.50" stroke="#222" stroke-width="1.2"/>
<text x="402.30" y="89.88" font-size="6.6" fill="#333" text-anchor="end" font-weight="normal" stroke="#333" stroke-width="0.2">10</text>
<line x1="404.70" y1="62.70" x2="407.30" y2="62.70" stroke="#222" stroke-width="1.2"/>
<text x="402.30" y="65.08" font-size="6.6" fill="#333" text-anchor="end" font-weight="normal" stroke="#333" stroke-width="0.2">20</text>
<line x1="404.70" y1="37.90" x2="407.30" y2="37.90" stroke="#222" stroke-width="1.2"/>
<text x="402.30" y="40.28" font-size="6.6" fill="#333" text-anchor="end" font-weight="normal" stroke="#333" stroke-width="0.2">30</text>
<line x1="406.80" y1="112.30" x2="446.50" y2="112.30" stroke="#222" stroke-width="1.2"/>
<rect x="412.00" y="82.54" width="8.20" height="29.76" fill="#F9D2A2"/>
<rect x="423.40" y="96.18" width="8.30" height="16.12" fill="#B9DBA6"/>
<rect x="435.00" y="104.86" width="8.40" height="7.44" fill="#AABBD8"/>
<circle cx="414.60" cy="63.94" r="1.22" fill="#C97A22"/>
<circle cx="415.10" cy="77.08" r="1.22" fill="#C97A22"/>
<circle cx="415.10" cy="81.05" r="1.22" fill="#C97A22"/>
<circle cx="416.60" cy="81.80" r="1.22" fill="#C97A22"/>
<circle cx="417.60" cy="83.53" r="1.22" fill="#C97A22"/>
<circle cx="417.60" cy="85.52" r="1.22" fill="#C97A22"/>
<circle cx="416.10" cy="86.51" r="1.22" fill="#C97A22"/>
<circle cx="414.60" cy="87.50" r="1.22" fill="#C97A22"/>
<circle cx="415.10" cy="88.99" r="1.22" fill="#C97A22"/>
<circle cx="416.60" cy="89.98" r="1.22" fill="#C97A22"/>
<circle cx="417.60" cy="90.97" r="1.22" fill="#C97A22"/>
<circle cx="415.02" cy="111.56" r="1.15" fill="#C97A22"/>
<circle cx="416.60" cy="110.09" r="1.15" fill="#C97A22"/>
<circle cx="415.83" cy="108.62" r="1.15" fill="#C97A22"/>
<circle cx="414.94" cy="107.15" r="1.15" fill="#C97A22"/>
<circle cx="417.81" cy="105.68" r="1.15" fill="#C97A22"/>
<circle cx="417.25" cy="104.21" r="1.15" fill="#C97A22"/>
<circle cx="414.62" cy="102.74" r="1.15" fill="#C97A22"/>
<circle cx="416.53" cy="101.27" r="1.15" fill="#C97A22"/>
<circle cx="416.25" cy="99.80" r="1.15" fill="#C97A22"/>
<circle cx="418.28" cy="98.34" r="1.15" fill="#C97A22"/>
<circle cx="417.43" cy="96.87" r="1.15" fill="#C97A22"/>
<circle cx="414.87" cy="95.40" r="1.15" fill="#C97A22"/>
<circle cx="418.89" cy="93.93" r="1.15" fill="#C97A22"/>
<circle cx="413.88" cy="92.46" r="1.15" fill="#C97A22"/>
<polygon points="427.05,76.36 425.71,78.80 428.39,78.80" fill="#2F7D2C"/>
<polygon points="426.05,79.09 424.71,81.53 427.39,81.53" fill="#2F7D2C"/>
<polygon points="426.55,83.56 425.21,86.00 427.89,86.00" fill="#2F7D2C"/>
<polygon points="426.55,87.77 425.21,90.21 427.89,90.21" fill="#2F7D2C"/>
<polygon points="427.55,91.24 426.21,93.68 428.89,93.68" fill="#2F7D2C"/>
<polygon points="425.55,93.48 424.21,95.92 426.89,95.92" fill="#2F7D2C"/>
<polygon points="427.55,93.97 426.21,96.41 428.89,96.41" fill="#2F7D2C"/>
<polygon points="429.55,94.47 428.21,96.91 430.89,96.91" fill="#2F7D2C"/>
<polygon points="425.05,95.96 423.71,98.40 426.39,98.40" fill="#2F7D2C"/>
<polygon points="428.55,96.45 427.21,98.89 429.89,98.89" fill="#2F7D2C"/>
<polygon points="427.07,110.18 425.80,112.48 428.33,112.48" fill="#2F7D2C"/>
<polygon points="429.07,109.42 427.80,111.72 430.33,111.72" fill="#2F7D2C"/>
<polygon points="425.50,108.66 424.23,110.96 426.76,110.96" fill="#2F7D2C"/>
<polygon points="427.48,107.90 426.22,110.20 428.75,110.20" fill="#2F7D2C"/>
<polygon points="424.83,107.14 423.57,109.44 426.10,109.44" fill="#2F7D2C"/>
<polygon points="428.54,106.38 427.28,108.68 429.81,108.68" fill="#2F7D2C"/>
<polygon points="429.11,105.62 427.85,107.92 430.38,107.92" fill="#2F7D2C"/>
<polygon points="427.98,104.87 426.72,107.17 429.25,107.17" fill="#2F7D2C"/>
<polygon points="429.77,104.11 428.50,106.41 431.03,106.41" fill="#2F7D2C"/>
<polygon points="426.45,103.35 425.19,105.65 427.72,105.65" fill="#2F7D2C"/>
<polygon points="428.70,102.59 427.44,104.89 429.97,104.89" fill="#2F7D2C"/>
<polygon points="428.11,101.83 426.84,104.13 429.37,104.13" fill="#2F7D2C"/>
<polygon points="428.02,101.07 426.76,103.37 429.29,103.37" fill="#2F7D2C"/>
<polygon points="427.29,100.31 426.03,102.61 428.56,102.61" fill="#2F7D2C"/>
<polygon points="429.56,99.56 428.29,101.86 430.82,101.86" fill="#2F7D2C"/>
<polygon points="430.17,98.80 428.91,101.10 431.44,101.10" fill="#2F7D2C"/>
<polygon points="427.40,98.04 426.13,100.34 428.66,100.34" fill="#2F7D2C"/>
<polygon points="428.52,97.28 427.25,99.58 429.78,99.58" fill="#2F7D2C"/>
<rect x="437.98" y="85.54" width="2.44" height="2.44" fill="#1A3868"/>
<rect x="437.98" y="88.26" width="2.44" height="2.44" fill="#1A3868"/>
<rect x="437.98" y="90.99" width="2.44" height="2.44" fill="#1A3868"/>
<rect x="437.98" y="94.46" width="2.44" height="2.44" fill="#1A3868"/>
<rect x="436.98" y="100.66" width="2.44" height="2.44" fill="#1A3868"/>
<rect x="438.98" y="101.66" width="2.44" height="2.44" fill="#1A3868"/>
<rect x="435.98" y="103.64" width="2.44" height="2.44" fill="#1A3868"/>
<rect x="437.98" y="103.64" width="2.44" height="2.44" fill="#1A3868"/>
<rect x="439.98" y="104.14" width="2.44" height="2.44" fill="#1A3868"/>
<rect x="435.41" y="110.41" width="2.30" height="2.30" fill="#1A3868"/>
<rect x="439.26" y="110.03" width="2.30" height="2.30" fill="#1A3868"/>
<rect x="438.93" y="109.65" width="2.30" height="2.30" fill="#1A3868"/>
<rect x="441.01" y="109.27" width="2.30" height="2.30" fill="#1A3868"/>
<rect x="439.98" y="108.88" width="2.30" height="2.30" fill="#1A3868"/>
<rect x="436.76" y="108.50" width="2.30" height="2.30" fill="#1A3868"/>
<rect x="437.36" y="108.12" width="2.30" height="2.30" fill="#1A3868"/>
<rect x="439.06" y="107.74" width="2.30" height="2.30" fill="#1A3868"/>
<rect x="435.19" y="107.36" width="2.30" height="2.30" fill="#1A3868"/>
<rect x="437.82" y="106.98" width="2.30" height="2.30" fill="#1A3868"/>
<rect x="436.06" y="106.60" width="2.30" height="2.30" fill="#1A3868"/>
<rect x="435.75" y="106.22" width="2.30" height="2.30" fill="#1A3868"/>
<rect x="435.40" y="105.84" width="2.30" height="2.30" fill="#1A3868"/>
<rect x="439.66" y="105.46" width="2.30" height="2.30" fill="#1A3868"/>
<rect x="435.83" y="105.08" width="2.30" height="2.30" fill="#1A3868"/>
<rect x="436.54" y="104.70" width="2.30" height="2.30" fill="#1A3868"/>
<line x1="472.80" y1="37.40" x2="472.80" y2="112.30" stroke="#222" stroke-width="1.2"/>
<line x1="470.20" y1="112.30" x2="472.80" y2="112.30" stroke="#222" stroke-width="1.2"/>
<text x="467.80" y="114.68" font-size="6.6" fill="#333" text-anchor="end" font-weight="normal" stroke="#333" stroke-width="0.2">0</text>
<line x1="470.20" y1="87.50" x2="472.80" y2="87.50" stroke="#222" stroke-width="1.2"/>
<text x="467.80" y="89.88" font-size="6.6" fill="#333" text-anchor="end" font-weight="normal" stroke="#333" stroke-width="0.2">10</text>
<line x1="470.20" y1="62.70" x2="472.80" y2="62.70" stroke="#222" stroke-width="1.2"/>
<text x="467.80" y="65.08" font-size="6.6" fill="#333" text-anchor="end" font-weight="normal" stroke="#333" stroke-width="0.2">20</text>
<line x1="470.20" y1="37.90" x2="472.80" y2="37.90" stroke="#222" stroke-width="1.2"/>
<text x="467.80" y="40.28" font-size="6.6" fill="#333" text-anchor="end" font-weight="normal" stroke="#333" stroke-width="0.2">30</text>
<line x1="472.30" y1="112.30" x2="511.00" y2="112.30" stroke="#222" stroke-width="1.2"/>
<rect x="477.50" y="102.38" width="7.50" height="9.92" fill="#F9D2A2"/>
<rect x="489.40" y="97.42" width="7.60" height="14.88" fill="#B9DBA6"/>
<rect x="500.50" y="108.58" width="8.40" height="3.72" fill="#AABBD8"/>
<circle cx="481.25" cy="54.52" r="1.22" fill="#C97A22"/>
<circle cx="480.75" cy="79.81" r="1.22" fill="#C97A22"/>
<circle cx="480.75" cy="93.45" r="1.22" fill="#C97A22"/>
<circle cx="479.75" cy="94.44" r="1.22" fill="#C97A22"/>
<circle cx="481.25" cy="104.36" r="1.22" fill="#C97A22"/>
<circle cx="482.75" cy="106.84" r="1.22" fill="#C97A22"/>
<circle cx="479.25" cy="108.58" r="1.22" fill="#C97A22"/>
<circle cx="482.25" cy="109.32" r="1.22" fill="#C97A22"/>
<circle cx="480.25" cy="110.81" r="1.22" fill="#C97A22"/>
<circle cx="483.25" cy="111.31" r="1.22" fill="#C97A22"/>
<circle cx="481.25" cy="111.80" r="1.22" fill="#C97A22"/>
<circle cx="480.25" cy="105.36" r="1.22" fill="#C97A22"/>
<circle cx="482.25" cy="107.34" r="1.22" fill="#C97A22"/>
<circle cx="479.25" cy="110.07" r="1.22" fill="#C97A22"/>
<circle cx="483.25" cy="108.33" r="1.22" fill="#C97A22"/>
<circle cx="481.25" cy="109.82" r="1.22" fill="#C97A22"/>
<circle cx="480.25" cy="111.56" r="1.22" fill="#C97A22"/>
<circle cx="482.25" cy="110.81" r="1.22" fill="#C97A22"/>
<polygon points="491.70,50.82 490.36,53.26 493.04,53.26" fill="#2F7D2C"/>
<polygon points="494.20,50.82 492.86,53.26 495.54,53.26" fill="#2F7D2C"/>
<polygon points="493.20,86.28 491.86,88.72 494.54,88.72" fill="#2F7D2C"/>
<polygon points="494.20,90.00 492.86,92.44 495.54,92.44" fill="#2F7D2C"/>
<polygon points="492.20,94.96 490.86,97.40 493.54,97.40" fill="#2F7D2C"/>
<polygon points="493.20,100.42 491.86,102.86 494.54,102.86" fill="#2F7D2C"/>
<polygon points="495.20,103.40 493.86,105.84 496.54,105.84" fill="#2F7D2C"/>
<polygon points="491.20,105.88 489.86,108.32 492.54,108.32" fill="#2F7D2C"/>
<polygon points="494.20,107.12 492.86,109.56 495.54,109.56" fill="#2F7D2C"/>
<polygon points="492.20,108.36 490.86,110.80 493.54,110.80" fill="#2F7D2C"/>
<polygon points="493.20,109.60 491.86,112.04 494.54,112.04" fill="#2F7D2C"/>
<polygon points="494.70,97.20 493.36,99.64 496.04,99.64" fill="#2F7D2C"/>
<polygon points="491.70,99.68 490.36,102.12 493.04,102.12" fill="#2F7D2C"/>
<polygon points="493.70,102.16 492.36,104.60 495.04,104.60" fill="#2F7D2C"/>
<polygon points="492.70,104.64 491.36,107.08 494.04,107.08" fill="#2F7D2C"/>
<polygon points="495.20,107.86 493.86,110.30 496.54,110.30" fill="#2F7D2C"/>
<rect x="503.48" y="80.58" width="2.44" height="2.44" fill="#1A3868"/>
<rect x="503.48" y="100.91" width="2.44" height="2.44" fill="#1A3868"/>
<rect x="501.48" y="106.12" width="2.44" height="2.44" fill="#1A3868"/>
<rect x="504.48" y="107.11" width="2.44" height="2.44" fill="#1A3868"/>
<rect x="505.98" y="108.60" width="2.44" height="2.44" fill="#1A3868"/>
<rect x="502.48" y="109.10" width="2.44" height="2.44" fill="#1A3868"/>
<rect x="503.48" y="110.09" width="2.44" height="2.44" fill="#1A3868"/>
<rect x="505.48" y="110.34" width="2.44" height="2.44" fill="#1A3868"/>
<rect x="500.98" y="110.09" width="2.44" height="2.44" fill="#1A3868"/>
<rect x="503.48" y="107.36" width="2.44" height="2.44" fill="#1A3868"/>
<rect x="502.48" y="108.10" width="2.44" height="2.44" fill="#1A3868"/>
<rect x="504.48" y="109.84" width="2.44" height="2.44" fill="#1A3868"/>
<rect x="503.48" y="104.88" width="2.44" height="2.44" fill="#1A3868"/>
<text x="385.80" y="74.00" font-size="6.8" fill="#333" text-anchor="middle" font-weight="normal" transform="rotate(-90 385.8 74.0)" dominant-baseline="central" textLength="29.8" lengthAdjust="spacingAndGlyphs" stroke="#333" stroke-width="0.2">IFNγ<tspan dy="-2" font-size="4.5">+</tspan><tspan dy="2"> (%)</tspan></text>
<polyline points="415.70,60.40 415.70,50.40 439.10,50.40 439.10,52.70" fill="none" stroke="#444" stroke-width="0.55"/>
<text x="427.40" y="51.10" font-size="7.2" fill="#333" text-anchor="middle" font-weight="bold" textLength="11.2" lengthAdjust="spacingAndGlyphs">****</text>
<polyline points="427.80,75.00 427.80,63.50 439.50,63.50 439.50,81.10" fill="none" stroke="#444" stroke-width="0.55"/>
<text x="433.65" y="64.10" font-size="7.2" fill="#333" text-anchor="middle" font-weight="bold" textLength="2.8" lengthAdjust="spacingAndGlyphs">*</text>
<polyline points="480.30,49.00 480.30,39.40 504.40,39.40 504.40,42.00" fill="none" stroke="#444" stroke-width="0.55"/>
<text x="492.35" y="37.60" font-size="6.0" fill="#333" text-anchor="middle" font-weight="normal" stroke="#333" stroke-width="0.2">0.9</text>
<polyline points="492.80,52.00 492.80,49.20 504.40,49.20 504.40,64.40" fill="none" stroke="#444" stroke-width="0.55"/>
<text x="498.60" y="47.40" font-size="6.0" fill="#333" text-anchor="middle" font-weight="normal" stroke="#333" stroke-width="0.2">0.3</text>
<line x1="407.60" y1="129.40" x2="407.60" y2="204.90" stroke="#222" stroke-width="1.2"/>
<line x1="405.00" y1="204.90" x2="407.60" y2="204.90" stroke="#222" stroke-width="1.2"/>
<text x="402.60" y="207.28" font-size="6.6" fill="#333" text-anchor="end" font-weight="normal" stroke="#333" stroke-width="0.2">0</text>
<line x1="405.00" y1="179.90" x2="407.60" y2="179.90" stroke="#222" stroke-width="1.2"/>
<text x="402.60" y="182.28" font-size="6.6" fill="#333" text-anchor="end" font-weight="normal" stroke="#333" stroke-width="0.2">20</text>
<line x1="405.00" y1="154.90" x2="407.60" y2="154.90" stroke="#222" stroke-width="1.2"/>
<text x="402.60" y="157.28" font-size="6.6" fill="#333" text-anchor="end" font-weight="normal" stroke="#333" stroke-width="0.2">40</text>
<line x1="405.00" y1="129.90" x2="407.60" y2="129.90" stroke="#222" stroke-width="1.2"/>
<text x="402.60" y="132.28" font-size="6.6" fill="#333" text-anchor="end" font-weight="normal" stroke="#333" stroke-width="0.2">60</text>
<line x1="407.10" y1="204.90" x2="446.50" y2="204.90" stroke="#222" stroke-width="1.2"/>
<rect x="412.60" y="166.15" width="8.50" height="38.75" fill="#F9D2A2"/>
<rect x="424.30" y="175.40" width="8.50" height="29.50" fill="#B9DBA6"/>
<rect x="436.80" y="186.15" width="7.60" height="18.75" fill="#AABBD8"/>
<circle cx="415.85" cy="138.65" r="1.22" fill="#C97A22"/>
<circle cx="415.35" cy="141.78" r="1.22" fill="#C97A22"/>
<circle cx="417.85" cy="144.90" r="1.22" fill="#C97A22"/>
<circle cx="414.85" cy="149.90" r="1.22" fill="#C97A22"/>
<circle cx="416.85" cy="152.40" r="1.22" fill="#C97A22"/>
<circle cx="418.85" cy="154.90" r="1.22" fill="#C97A22"/>
<circle cx="415.85" cy="159.90" r="1.22" fill="#C97A22"/>
<circle cx="416.85" cy="163.03" r="1.22" fill="#C97A22"/>
<circle cx="418.85" cy="164.90" r="1.22" fill="#C97A22"/>
<circle cx="416.18" cy="184.90" r="1.15" fill="#C97A22"/>
<circle cx="419.12" cy="184.01" r="1.15" fill="#C97A22"/>
<circle cx="414.29" cy="183.11" r="1.15" fill="#C97A22"/>
<circle cx="416.54" cy="182.22" r="1.15" fill="#C97A22"/>
<circle cx="417.15" cy="181.33" r="1.15" fill="#C97A22"/>
<circle cx="419.19" cy="180.44" r="1.15" fill="#C97A22"/>
<circle cx="418.80" cy="179.54" r="1.15" fill="#C97A22"/>
<circle cx="419.07" cy="178.65" r="1.15" fill="#C97A22"/>
<circle cx="415.50" cy="177.76" r="1.15" fill="#C97A22"/>
<circle cx="416.33" cy="176.86" r="1.15" fill="#C97A22"/>
<circle cx="415.99" cy="175.97" r="1.15" fill="#C97A22"/>
<circle cx="419.19" cy="175.08" r="1.15" fill="#C97A22"/>
<circle cx="419.64" cy="174.19" r="1.15" fill="#C97A22"/>
<circle cx="414.72" cy="173.29" r="1.15" fill="#C97A22"/>
<circle cx="414.87" cy="172.40" r="1.15" fill="#C97A22"/>
<circle cx="415.21" cy="171.51" r="1.15" fill="#C97A22"/>
<circle cx="415.22" cy="170.61" r="1.15" fill="#C97A22"/>
<circle cx="416.76" cy="169.72" r="1.15" fill="#C97A22"/>
<circle cx="417.39" cy="168.83" r="1.15" fill="#C97A22"/>
<circle cx="415.40" cy="167.94" r="1.15" fill="#C97A22"/>
<circle cx="413.82" cy="167.04" r="1.15" fill="#C97A22"/>
<circle cx="416.36" cy="166.15" r="1.15" fill="#C97A22"/>
<circle cx="416.05" cy="187.40" r="1.15" fill="#C97A22"/>
<circle cx="417.25" cy="183.90" r="1.15" fill="#C97A22"/>
<circle cx="419.61" cy="180.40" r="1.15" fill="#C97A22"/>
<circle cx="418.01" cy="176.90" r="1.15" fill="#C97A22"/>
<circle cx="416.94" cy="173.40" r="1.15" fill="#C97A22"/>
<circle cx="417.57" cy="169.90" r="1.15" fill="#C97A22"/>
<polygon points="428.55,140.31 427.21,142.75 429.89,142.75" fill="#2F7D2C"/>
<polygon points="427.55,153.44 426.21,155.88 428.89,155.88" fill="#2F7D2C"/>
<polygon points="429.55,158.44 428.21,160.88 430.89,160.88" fill="#2F7D2C"/>
<polygon points="427.55,163.44 426.21,165.88 428.89,165.88" fill="#2F7D2C"/>
<polygon points="429.55,168.44 428.21,170.88 430.89,170.88" fill="#2F7D2C"/>
<polygon points="428.55,173.44 427.21,175.88 429.89,175.88" fill="#2F7D2C"/>
<polygon points="429.62,188.52 428.36,190.82 430.89,190.82" fill="#2F7D2C"/>
<polygon points="425.83,187.38 424.56,189.68 427.09,189.68" fill="#2F7D2C"/>
<polygon points="430.99,186.25 429.72,188.55 432.25,188.55" fill="#2F7D2C"/>
<polygon points="430.26,185.11 428.99,187.41 431.52,187.41" fill="#2F7D2C"/>
<polygon points="430.83,183.97 429.57,186.27 432.10,186.27" fill="#2F7D2C"/>
<polygon points="430.37,182.84 429.10,185.14 431.63,185.14" fill="#2F7D2C"/>
<polygon points="427.89,181.70 426.63,184.00 429.16,184.00" fill="#2F7D2C"/>
<polygon points="427.93,180.57 426.67,182.87 429.20,182.87" fill="#2F7D2C"/>
<polygon points="426.13,179.43 424.87,181.73 427.40,181.73" fill="#2F7D2C"/>
<polygon points="429.37,178.29 428.10,180.59 430.63,180.59" fill="#2F7D2C"/>
<polygon points="425.88,177.16 424.61,179.46 427.14,179.46" fill="#2F7D2C"/>
<polygon points="425.91,176.02 424.65,178.32 427.18,178.32" fill="#2F7D2C"/>
<rect x="439.38" y="162.43" width="2.44" height="2.44" fill="#1A3868"/>
<rect x="437.38" y="170.56" width="2.44" height="2.44" fill="#1A3868"/>
<rect x="439.38" y="171.18" width="2.44" height="2.44" fill="#1A3868"/>
<rect x="441.38" y="170.56" width="2.44" height="2.44" fill="#1A3868"/>
<rect x="438.38" y="176.18" width="2.44" height="2.44" fill="#1A3868"/>
<rect x="441.38" y="178.68" width="2.44" height="2.44" fill="#1A3868"/>
<rect x="437.94" y="195.00" width="2.30" height="2.30" fill="#1A3868"/>
<rect x="437.69" y="194.00" width="2.30" height="2.30" fill="#1A3868"/>
<rect x="438.62" y="193.00" width="2.30" height="2.30" fill="#1A3868"/>
<rect x="437.12" y="192.00" width="2.30" height="2.30" fill="#1A3868"/>
<rect x="436.85" y="191.00" width="2.30" height="2.30" fill="#1A3868"/>
<rect x="437.64" y="190.00" width="2.30" height="2.30" fill="#1A3868"/>
<rect x="437.38" y="189.00" width="2.30" height="2.30" fill="#1A3868"/>
<rect x="438.74" y="188.00" width="2.30" height="2.30" fill="#1A3868"/>
<rect x="436.98" y="187.00" width="2.30" height="2.30" fill="#1A3868"/>
<rect x="441.40" y="186.00" width="2.30" height="2.30" fill="#1A3868"/>
<rect x="440.04" y="185.00" width="2.30" height="2.30" fill="#1A3868"/>
<rect x="437.62" y="184.00" width="2.30" height="2.30" fill="#1A3868"/>
<rect x="438.16" y="183.00" width="2.30" height="2.30" fill="#1A3868"/>
<rect x="438.66" y="182.00" width="2.30" height="2.30" fill="#1A3868"/>
<rect x="438.74" y="181.00" width="2.30" height="2.30" fill="#1A3868"/>
<rect x="437.49" y="180.00" width="2.30" height="2.30" fill="#1A3868"/>
<rect x="441.26" y="192.50" width="2.30" height="2.30" fill="#1A3868"/>
<rect x="442.01" y="191.00" width="2.30" height="2.30" fill="#1A3868"/>
<rect x="439.27" y="189.50" width="2.30" height="2.30" fill="#1A3868"/>
<rect x="439.37" y="188.00" width="2.30" height="2.30" fill="#1A3868"/>
<rect x="437.30" y="186.50" width="2.30" height="2.30" fill="#1A3868"/>
<rect x="437.38" y="185.00" width="2.30" height="2.30" fill="#1A3868"/>
<line x1="473.00" y1="129.40" x2="473.00" y2="204.90" stroke="#222" stroke-width="1.2"/>
<line x1="470.40" y1="204.90" x2="473.00" y2="204.90" stroke="#222" stroke-width="1.2"/>
<text x="468.00" y="207.28" font-size="6.6" fill="#333" text-anchor="end" font-weight="normal" stroke="#333" stroke-width="0.2">0</text>
<line x1="470.40" y1="179.90" x2="473.00" y2="179.90" stroke="#222" stroke-width="1.2"/>
<text x="468.00" y="182.28" font-size="6.6" fill="#333" text-anchor="end" font-weight="normal" stroke="#333" stroke-width="0.2">20</text>
<line x1="470.40" y1="154.90" x2="473.00" y2="154.90" stroke="#222" stroke-width="1.2"/>
<text x="468.00" y="157.28" font-size="6.6" fill="#333" text-anchor="end" font-weight="normal" stroke="#333" stroke-width="0.2">40</text>
<line x1="470.40" y1="129.90" x2="473.00" y2="129.90" stroke="#222" stroke-width="1.2"/>
<text x="468.00" y="132.28" font-size="6.6" fill="#333" text-anchor="end" font-weight="normal" stroke="#333" stroke-width="0.2">60</text>
<line x1="472.50" y1="204.90" x2="509.00" y2="204.90" stroke="#222" stroke-width="1.2"/>
<rect x="478.70" y="191.15" width="7.50" height="13.75" fill="#F9D2A2"/>
<rect x="490.00" y="187.03" width="7.50" height="17.88" fill="#B9DBA6"/>
<rect x="501.20" y="193.65" width="7.50" height="11.25" fill="#AABBD8"/>
<circle cx="480.95" cy="170.40" r="1.22" fill="#C97A22"/>
<circle cx="483.95" cy="170.40" r="1.22" fill="#C97A22"/>
<circle cx="482.45" cy="173.65" r="1.22" fill="#C97A22"/>
<circle cx="481.45" cy="178.65" r="1.22" fill="#C97A22"/>
<circle cx="483.45" cy="181.15" r="1.22" fill="#C97A22"/>
<circle cx="482.45" cy="183.65" r="1.22" fill="#C97A22"/>
<circle cx="480.45" cy="187.40" r="1.22" fill="#C97A22"/>
<circle cx="483.45" cy="189.90" r="1.22" fill="#C97A22"/>
<circle cx="482.45" cy="192.40" r="1.22" fill="#C97A22"/>
<circle cx="481.45" cy="194.90" r="1.22" fill="#C97A22"/>
<circle cx="484.45" cy="196.15" r="1.22" fill="#C97A22"/>
<circle cx="480.45" cy="198.65" r="1.22" fill="#C97A22"/>
<circle cx="483.45" cy="199.90" r="1.22" fill="#C97A22"/>
<circle cx="482.45" cy="201.15" r="1.22" fill="#C97A22"/>
<circle cx="481.45" cy="203.65" r="1.22" fill="#C97A22"/>
<circle cx="483.45" cy="204.28" r="1.22" fill="#C97A22"/>
<circle cx="481.65" cy="204.53" r="1.15" fill="#C97A22"/>
<circle cx="481.25" cy="203.32" r="1.15" fill="#C97A22"/>
<circle cx="484.13" cy="202.11" r="1.15" fill="#C97A22"/>
<circle cx="480.72" cy="200.90" r="1.15" fill="#C97A22"/>
<circle cx="480.02" cy="199.69" r="1.15" fill="#C97A22"/>
<circle cx="484.75" cy="198.48" r="1.15" fill="#C97A22"/>
<circle cx="482.59" cy="197.28" r="1.15" fill="#C97A22"/>
<circle cx="480.65" cy="196.07" r="1.15" fill="#C97A22"/>
<circle cx="482.67" cy="194.86" r="1.15" fill="#C97A22"/>
<circle cx="480.04" cy="193.65" r="1.15" fill="#C97A22"/>
<polygon points="493.75,155.94 492.41,158.38 495.09,158.38" fill="#2F7D2C"/>
<polygon points="491.25,165.94 489.91,168.38 492.59,168.38" fill="#2F7D2C"/>
<polygon points="495.75,167.19 494.41,169.63 497.09,169.63" fill="#2F7D2C"/>
<polygon points="494.25,169.06 492.91,171.50 495.59,171.50" fill="#2F7D2C"/>
<polygon points="492.75,192.19 491.41,194.63 494.09,194.63" fill="#2F7D2C"/>
<polygon points="494.75,194.69 493.41,197.13 496.09,197.13" fill="#2F7D2C"/>
<polygon points="493.75,197.19 492.41,199.63 495.09,199.63" fill="#2F7D2C"/>
<polygon points="495.75,202.19 494.41,204.63 497.09,204.63" fill="#2F7D2C"/>
<rect x="504.73" y="164.31" width="2.44" height="2.44" fill="#1A3868"/>
<rect x="504.73" y="169.31" width="2.44" height="2.44" fill="#1A3868"/>
<rect x="504.73" y="179.93" width="2.44" height="2.44" fill="#1A3868"/>
<rect x="502.73" y="181.81" width="2.44" height="2.44" fill="#1A3868"/>
<rect x="503.73" y="187.43" width="2.44" height="2.44" fill="#1A3868"/>
<rect x="505.73" y="189.93" width="2.44" height="2.44" fill="#1A3868"/>
<rect x="501.73" y="193.68" width="2.44" height="2.44" fill="#1A3868"/>
<rect x="503.73" y="196.18" width="2.44" height="2.44" fill="#1A3868"/>
<rect x="504.73" y="198.68" width="2.44" height="2.44" fill="#1A3868"/>
<rect x="502.73" y="201.18" width="2.44" height="2.44" fill="#1A3868"/>
<rect x="505.73" y="202.43" width="2.44" height="2.44" fill="#1A3868"/>
<rect x="503.73" y="203.06" width="2.44" height="2.44" fill="#1A3868"/>
<rect x="503.94" y="203.38" width="2.30" height="2.30" fill="#1A3868"/>
<rect x="506.24" y="202.31" width="2.30" height="2.30" fill="#1A3868"/>
<rect x="505.65" y="201.24" width="2.30" height="2.30" fill="#1A3868"/>
<rect x="504.80" y="200.17" width="2.30" height="2.30" fill="#1A3868"/>
<rect x="502.58" y="199.10" width="2.30" height="2.30" fill="#1A3868"/>
<rect x="503.12" y="198.03" width="2.30" height="2.30" fill="#1A3868"/>
<rect x="502.10" y="196.96" width="2.30" height="2.30" fill="#1A3868"/>
<rect x="505.19" y="195.89" width="2.30" height="2.30" fill="#1A3868"/>
<rect x="503.97" y="194.82" width="2.30" height="2.30" fill="#1A3868"/>
<rect x="505.22" y="193.75" width="2.30" height="2.30" fill="#1A3868"/>
<text x="420.25" y="214.00" font-size="6.9" fill="#F3AE70" text-anchor="end" font-weight="normal" transform="rotate(-45 420.25 214.0)">αCD16</text>
<text x="431.95" y="214.00" font-size="6.9" fill="#5DB85D" text-anchor="end" font-weight="normal" transform="rotate(-45 431.95 214.0)">αNCR</text>
<text x="444.00" y="214.00" font-size="6.9" fill="#3C6EA8" text-anchor="end" font-weight="normal" transform="rotate(-45 444.0 214.0)">IgG</text>
<text x="485.85" y="214.00" font-size="6.9" fill="#F3AE70" text-anchor="end" font-weight="normal" transform="rotate(-45 485.84999999999997 214.0)">αCD16</text>
<text x="497.15" y="214.00" font-size="6.9" fill="#5DB85D" text-anchor="end" font-weight="normal" transform="rotate(-45 497.15 214.0)">αNCR</text>
<text x="508.35" y="214.00" font-size="6.9" fill="#3C6EA8" text-anchor="end" font-weight="normal" transform="rotate(-45 508.34999999999997 214.0)">IgG</text>
<text x="387.80" y="166.70" font-size="6.6" fill="#333" text-anchor="middle" font-weight="normal" transform="rotate(-90 387.8 166.7)" dominant-baseline="central" textLength="35.5" lengthAdjust="spacingAndGlyphs" stroke="#333" stroke-width="0.2">CD107a (%)</text>
<polyline points="417.50,136.00 417.50,125.30 441.70,125.30 441.70,128.00" fill="none" stroke="#444" stroke-width="0.55"/>
<text x="429.60" y="125.10" font-size="7.2" fill="#333" text-anchor="middle" font-weight="bold" textLength="8.399999999999999" lengthAdjust="spacingAndGlyphs">***</text>
<polyline points="427.80,139.50 427.80,136.70 441.70,136.70 441.70,142.80" fill="none" stroke="#444" stroke-width="0.55"/>
<text x="434.75" y="135.00" font-size="6.0" fill="#333" text-anchor="middle" font-weight="normal" stroke="#333" stroke-width="0.2">0.06</text>
<polyline points="482.00,145.00 482.00,142.00 505.00,142.00 505.00,145.00" fill="none" stroke="#444" stroke-width="0.55"/>
<text x="493.50" y="139.60" font-size="6.0" fill="#333" text-anchor="middle" font-weight="normal" stroke="#333" stroke-width="0.2">0.9</text>
<polyline points="493.00,154.50 493.00,151.30 505.00,151.30 505.00,154.50" fill="none" stroke="#444" stroke-width="0.55"/>
<text x="499.00" y="149.90" font-size="6.0" fill="#333" text-anchor="middle" font-weight="normal" stroke="#333" stroke-width="0.2">0.7</text>
<line x1="314.00" y1="218.18" x2="314.00" y2="274.90" stroke="#222" stroke-width="1.0"/>
<line x1="311.40" y1="274.90" x2="314.00" y2="274.90" stroke="#222" stroke-width="1.0"/>
<text x="309.20" y="277.28" font-size="6.6" fill="#333" text-anchor="end" font-weight="normal" stroke="#333" stroke-width="0.2">0</text>
<line x1="311.40" y1="256.16" x2="314.00" y2="256.16" stroke="#222" stroke-width="1.0"/>
<text x="309.20" y="258.54" font-size="6.6" fill="#333" text-anchor="end" font-weight="normal" stroke="#333" stroke-width="0.2">20</text>
<line x1="311.40" y1="237.42" x2="314.00" y2="237.42" stroke="#222" stroke-width="1.0"/>
<text x="309.20" y="239.80" font-size="6.6" fill="#333" text-anchor="end" font-weight="normal" stroke="#333" stroke-width="0.2">40</text>
<line x1="311.40" y1="218.68" x2="314.00" y2="218.68" stroke="#222" stroke-width="1.0"/>
<text x="309.20" y="221.06" font-size="6.6" fill="#333" text-anchor="end" font-weight="normal" stroke="#333" stroke-width="0.2">60</text>
<line x1="313.50" y1="274.90" x2="368.00" y2="274.90" stroke="#222" stroke-width="1.0"/>
<rect x="315.10" y="265.81" width="4.4" height="9.09" fill="#D3DAE8"/>
<circle cx="316.89" cy="254.29" r="1.0" fill="#1E3F72"/>
<circle cx="316.64" cy="263.66" r="1.0" fill="#1E3F72"/>
<circle cx="318.05" cy="265.53" r="1.0" fill="#1E3F72"/>
<circle cx="318.46" cy="266.47" r="1.0" fill="#1E3F72"/>
<circle cx="318.15" cy="267.40" r="1.0" fill="#1E3F72"/>
<circle cx="318.03" cy="268.34" r="1.0" fill="#1E3F72"/>
<circle cx="318.06" cy="269.28" r="1.0" fill="#1E3F72"/>
<circle cx="317.88" cy="270.21" r="1.0" fill="#1E3F72"/>
<line x1="317.30" y1="274.90" x2="317.30" y2="276.70" stroke="#222" stroke-width="0.6"/>
<rect x="320.47" y="266.00" width="4.4" height="8.90" fill="#F2DADF"/>
<circle cx="322.01" cy="256.16" r="1.0" fill="#C8213F"/>
<circle cx="322.71" cy="258.97" r="1.0" fill="#C8213F"/>
<circle cx="322.32" cy="263.66" r="1.0" fill="#C8213F"/>
<circle cx="321.54" cy="265.53" r="1.0" fill="#C8213F"/>
<circle cx="321.54" cy="267.40" r="1.0" fill="#C8213F"/>
<circle cx="322.14" cy="268.34" r="1.0" fill="#C8213F"/>
<circle cx="322.09" cy="270.21" r="1.0" fill="#C8213F"/>
<circle cx="323.13" cy="271.15" r="1.0" fill="#C8213F"/>
<circle cx="323.77" cy="272.09" r="1.0" fill="#C8213F"/>
<line x1="322.67" y1="274.90" x2="322.67" y2="276.70" stroke="#222" stroke-width="0.6"/>
<rect x="325.84" y="259.53" width="4.4" height="15.37" fill="#D3DAE8"/>
<circle cx="327.91" cy="250.54" r="1.0" fill="#1E3F72"/>
<circle cx="329.09" cy="256.16" r="1.0" fill="#1E3F72"/>
<circle cx="329.21" cy="258.03" r="1.0" fill="#1E3F72"/>
<circle cx="329.13" cy="259.91" r="1.0" fill="#1E3F72"/>
<circle cx="327.72" cy="260.84" r="1.0" fill="#1E3F72"/>
<circle cx="327.37" cy="261.78" r="1.0" fill="#1E3F72"/>
<circle cx="327.38" cy="263.66" r="1.0" fill="#1E3F72"/>
<circle cx="327.31" cy="265.53" r="1.0" fill="#1E3F72"/>
<line x1="328.04" y1="274.90" x2="328.04" y2="276.70" stroke="#222" stroke-width="0.6"/>
<rect x="331.21" y="263.19" width="4.4" height="11.71" fill="#F2DADF"/>
<circle cx="332.70" cy="252.41" r="1.0" fill="#C8213F"/>
<circle cx="333.71" cy="260.84" r="1.0" fill="#C8213F"/>
<circle cx="334.37" cy="262.72" r="1.0" fill="#C8213F"/>
<circle cx="334.23" cy="264.59" r="1.0" fill="#C8213F"/>
<circle cx="333.36" cy="266.47" r="1.0" fill="#C8213F"/>
<circle cx="333.78" cy="268.34" r="1.0" fill="#C8213F"/>
<circle cx="334.13" cy="270.21" r="1.0" fill="#C8213F"/>
<line x1="333.41" y1="274.90" x2="333.41" y2="276.70" stroke="#222" stroke-width="0.6"/>
<rect x="336.58" y="247.73" width="4.4" height="27.17" fill="#D3DAE8"/>
<circle cx="337.78" cy="231.80" r="1.0" fill="#1E3F72"/>
<circle cx="339.17" cy="232.73" r="1.0" fill="#1E3F72"/>
<circle cx="339.76" cy="237.42" r="1.0" fill="#1E3F72"/>
<circle cx="339.46" cy="242.10" r="1.0" fill="#1E3F72"/>
<circle cx="339.38" cy="243.98" r="1.0" fill="#1E3F72"/>
<circle cx="338.73" cy="246.79" r="1.0" fill="#1E3F72"/>
<circle cx="338.01" cy="249.60" r="1.0" fill="#1E3F72"/>
<circle cx="339.47" cy="252.41" r="1.0" fill="#1E3F72"/>
<circle cx="338.38" cy="256.16" r="1.0" fill="#1E3F72"/>
<line x1="338.78" y1="274.90" x2="338.78" y2="276.70" stroke="#222" stroke-width="0.6"/>
<rect x="341.95" y="255.22" width="4.4" height="19.68" fill="#F2DADF"/>
<circle cx="344.87" cy="243.98" r="1.0" fill="#C8213F"/>
<circle cx="345.28" cy="251.47" r="1.0" fill="#C8213F"/>
<circle cx="343.90" cy="253.35" r="1.0" fill="#C8213F"/>
<circle cx="343.91" cy="256.16" r="1.0" fill="#C8213F"/>
<circle cx="345.22" cy="258.03" r="1.0" fill="#C8213F"/>
<circle cx="344.69" cy="260.84" r="1.0" fill="#C8213F"/>
<circle cx="343.36" cy="263.66" r="1.0" fill="#C8213F"/>
<circle cx="343.25" cy="265.53" r="1.0" fill="#C8213F"/>
<line x1="344.15" y1="274.90" x2="344.15" y2="276.70" stroke="#222" stroke-width="0.6"/>
<rect x="347.32" y="263.19" width="4.4" height="11.71" fill="#D3DAE8"/>
<circle cx="348.68" cy="255.22" r="1.0" fill="#1E3F72"/>
<circle cx="350.49" cy="258.97" r="1.0" fill="#1E3F72"/>
<circle cx="350.26" cy="260.84" r="1.0" fill="#1E3F72"/>
<circle cx="348.67" cy="262.72" r="1.0" fill="#1E3F72"/>
<circle cx="350.30" cy="263.66" r="1.0" fill="#1E3F72"/>
<circle cx="350.67" cy="265.53" r="1.0" fill="#1E3F72"/>
<circle cx="349.90" cy="266.47" r="1.0" fill="#1E3F72"/>
<circle cx="349.16" cy="267.40" r="1.0" fill="#1E3F72"/>
<line x1="349.52" y1="274.90" x2="349.52" y2="276.70" stroke="#222" stroke-width="0.6"/>
<rect x="352.69" y="265.53" width="4.4" height="9.37" fill="#F2DADF"/>
<circle cx="355.01" cy="249.60" r="1.0" fill="#C8213F"/>
<circle cx="354.00" cy="260.84" r="1.0" fill="#C8213F"/>
<circle cx="353.72" cy="263.66" r="1.0" fill="#C8213F"/>
<circle cx="356.02" cy="266.47" r="1.0" fill="#C8213F"/>
<circle cx="355.25" cy="268.34" r="1.0" fill="#C8213F"/>
<circle cx="354.95" cy="270.21" r="1.0" fill="#C8213F"/>
<circle cx="355.93" cy="272.09" r="1.0" fill="#C8213F"/>
<line x1="354.89" y1="274.90" x2="354.89" y2="276.70" stroke="#222" stroke-width="0.6"/>
<rect x="358.06" y="254.29" width="4.4" height="20.61" fill="#D3DAE8"/>
<circle cx="360.10" cy="228.05" r="1.0" fill="#1E3F72"/>
<circle cx="361.15" cy="230.86" r="1.0" fill="#1E3F72"/>
<circle cx="361.04" cy="237.42" r="1.0" fill="#1E3F72"/>
<circle cx="359.57" cy="246.79" r="1.0" fill="#1E3F72"/>
<circle cx="359.66" cy="251.47" r="1.0" fill="#1E3F72"/>
<circle cx="359.76" cy="254.29" r="1.0" fill="#1E3F72"/>
<circle cx="359.64" cy="256.16" r="1.0" fill="#1E3F72"/>
<circle cx="360.47" cy="258.03" r="1.0" fill="#1E3F72"/>
<circle cx="359.68" cy="260.84" r="1.0" fill="#1E3F72"/>
<circle cx="360.07" cy="263.66" r="1.0" fill="#1E3F72"/>
<line x1="360.26" y1="274.90" x2="360.26" y2="276.70" stroke="#222" stroke-width="0.6"/>
<rect x="363.43" y="262.25" width="4.4" height="12.65" fill="#F2DADF"/>
<circle cx="364.74" cy="253.35" r="1.0" fill="#C8213F"/>
<circle cx="366.61" cy="256.16" r="1.0" fill="#C8213F"/>
<circle cx="365.28" cy="258.97" r="1.0" fill="#C8213F"/>
<circle cx="365.53" cy="261.78" r="1.0" fill="#C8213F"/>
<circle cx="365.83" cy="263.66" r="1.0" fill="#C8213F"/>
<circle cx="366.60" cy="265.53" r="1.0" fill="#C8213F"/>
<circle cx="365.44" cy="267.40" r="1.0" fill="#C8213F"/>
<circle cx="366.63" cy="269.28" r="1.0" fill="#C8213F"/>
<line x1="365.63" y1="274.90" x2="365.63" y2="276.70" stroke="#222" stroke-width="0.6"/>
<text x="321.80" y="283.20" font-size="6.6" fill="#222" text-anchor="end" font-weight="normal" transform="rotate(-45 321.8 283.2)" stroke="#222" stroke-width="0.2">NS</text>
<text x="332.50" y="283.20" font-size="6.6" fill="#222" text-anchor="end" font-weight="normal" transform="rotate(-45 332.5 283.2)" stroke="#222" stroke-width="0.2">MOLP8</text>
<text x="343.30" y="283.20" font-size="6.6" fill="#222" text-anchor="end" font-weight="normal" transform="rotate(-45 343.3 283.2)" stroke="#222" stroke-width="0.2">+ISA</text>
<text x="354.00" y="283.20" font-size="6.6" fill="#222" text-anchor="end" font-weight="normal" transform="rotate(-45 354.0 283.2)" stroke="#222" stroke-width="0.2">RPMI8226</text>
<text x="364.80" y="283.20" font-size="6.6" fill="#222" text-anchor="end" font-weight="normal" transform="rotate(-45 364.8 283.2)" stroke="#222" stroke-width="0.2">+ISA</text>
<text x="292.40" y="246.30" font-size="6.6" fill="#333" text-anchor="middle" font-weight="normal" transform="rotate(-90 292.4 246.3)" dominant-baseline="central" textLength="35.8" lengthAdjust="spacingAndGlyphs" stroke="#333" stroke-width="0.2">CD107a (%)</text>
<circle cx="315.30" cy="187.20" r="1.25" fill="#1E3F72"/>
<text x="319.60" y="189.40" font-size="6.6" fill="#3C6EA8" text-anchor="start" font-weight="normal" textLength="9.2" lengthAdjust="spacingAndGlyphs">HD</text>
<circle cx="336.00" cy="187.20" r="1.25" fill="#C8213F"/>
<text x="341.00" y="189.40" font-size="6.6" fill="#D42A48" text-anchor="start" font-weight="normal" textLength="21.3" lengthAdjust="spacingAndGlyphs">NDMM</text>
<polyline points="316.70,250.00 316.70,200.30 360.50,200.30 360.50,225.00" fill="none" stroke="#888" stroke-width="0.55"/>
<text x="338.60" y="200.10" font-size="7.2" fill="#333" text-anchor="middle" font-weight="bold" textLength="8.399999999999999" lengthAdjust="spacingAndGlyphs">***</text>
<polyline points="316.70,250.00 316.70,210.80 338.30,210.80 338.30,214.00" fill="none" stroke="#888" stroke-width="0.55"/>
<text x="327.50" y="211.10" font-size="7.2" fill="#333" text-anchor="middle" font-weight="bold" textLength="11.2" lengthAdjust="spacingAndGlyphs">****</text>
<polyline points="338.60,228.00 338.60,221.50 344.40,221.50 344.40,240.00" fill="none" stroke="#444" stroke-width="0.55"/>
<text x="341.50" y="222.70" font-size="7.2" fill="#333" text-anchor="middle" font-weight="bold" textLength="8.399999999999999" lengthAdjust="spacingAndGlyphs">***</text>
<polyline points="360.60,226.00 360.60,221.50 366.40,221.50 366.40,250.00" fill="none" stroke="#444" stroke-width="0.55"/>
<text x="363.50" y="222.70" font-size="7.2" fill="#333" text-anchor="middle" font-weight="bold" textLength="5.6" lengthAdjust="spacingAndGlyphs">**</text>
<rect x="388.40" y="265.60" width="29.60" height="69.60" fill="none" stroke="#666" stroke-width="0.6"/>
<line x1="388.40" y1="293.90" x2="418.00" y2="293.90" stroke="#999" stroke-width="0.6"/>
<line x1="388.40" y1="304.90" x2="418.00" y2="304.90" stroke="#999" stroke-width="0.6"/>
<line x1="388.40" y1="317.60" x2="418.00" y2="317.60" stroke="#999" stroke-width="0.6"/>
<polygon points="393,293.9 395.5,292 397,285 398.3,277 399.2,275 400.2,278 401,283 402.5,286 404,288 406,289 408,291 411,292.5 416,293.3 417.8,293.9" fill="#D0103A"/>
<polygon points="393,304.9 395,301 396.5,294 398,290 399.5,292 401,296 402,300 404,304.9" fill="#D0103A"/>
<polygon points="396,304.9 398,300 400,295 401.5,291 403,288 404.5,289 406,293 407.5,298 409,301.5 411,304 412,304.9" fill="#1A4F86"/>
<polygon points="393,317.6 394.5,315 396,309 397,302 397.8,299 398.6,301 399.5,305 401,309 403,312 406,314.5 410,316.5 413,317.2 416,317.6" fill="#D0103A"/>
<polygon points="392.5,335 394,332 395.5,326 396.5,319 397.2,317.3 398,320 399,326 400.5,329 402.5,330.5 405,331 407,331.5 409,333 411,334.5 412,335" fill="#1A4F86"/>
<text x="381.80" y="286.70" font-size="6.3" fill="#222" text-anchor="middle" font-weight="normal" transform="rotate(-90 381.8 286.7)" dominant-baseline="central" textLength="33.8" lengthAdjust="spacingAndGlyphs" stroke="#222" stroke-width="0.2">MOLP8-ISA</text>
<text x="381.80" y="321.20" font-size="6.3" fill="#222" text-anchor="middle" font-weight="normal" transform="rotate(-90 381.8 321.2)" dominant-baseline="central" textLength="21.5" lengthAdjust="spacingAndGlyphs" stroke="#222" stroke-width="0.2">MOLP8</text>
<text x="394.00" y="342.20" font-size="4.2" fill="#333" text-anchor="middle" font-weight="normal" stroke="#333" stroke-width="0.12">0</text>
<text x="412.00" y="342.20" font-size="4.2" fill="#333" text-anchor="middle" font-weight="normal" stroke="#333" stroke-width="0.12">10<tspan dy="-1.8" font-size="3">5</tspan></text>
<text x="403.10" y="350.10" font-size="6.6" fill="#222" text-anchor="middle" font-weight="normal" textLength="35.8" lengthAdjust="spacingAndGlyphs" stroke="#222" stroke-width="0.2">Viability Dye</text>
<line x1="454.60" y1="270.70" x2="454.60" y2="327.40" stroke="#222" stroke-width="1.0"/>
<line x1="452.00" y1="327.40" x2="454.60" y2="327.40" stroke="#222" stroke-width="1.0"/>
<text x="448.80" y="329.78" font-size="6.6" fill="#333" text-anchor="end" font-weight="normal" stroke="#333" stroke-width="0.2">0</text>
<line x1="452.00" y1="313.35" x2="454.60" y2="313.35" stroke="#222" stroke-width="1.0"/>
<text x="448.80" y="315.73" font-size="6.6" fill="#333" text-anchor="end" font-weight="normal" stroke="#333" stroke-width="0.2">10</text>
<line x1="452.00" y1="299.30" x2="454.60" y2="299.30" stroke="#222" stroke-width="1.0"/>
<text x="448.80" y="301.68" font-size="6.6" fill="#333" text-anchor="end" font-weight="normal" stroke="#333" stroke-width="0.2">20</text>
<line x1="452.00" y1="285.25" x2="454.60" y2="285.25" stroke="#222" stroke-width="1.0"/>
<text x="448.80" y="287.63" font-size="6.6" fill="#333" text-anchor="end" font-weight="normal" stroke="#333" stroke-width="0.2">30</text>
<line x1="452.00" y1="271.20" x2="454.60" y2="271.20" stroke="#222" stroke-width="1.0"/>
<text x="448.80" y="273.58" font-size="6.6" fill="#333" text-anchor="end" font-weight="normal" stroke="#333" stroke-width="0.2">40</text>
<line x1="454.10" y1="327.40" x2="488.50" y2="327.40" stroke="#222" stroke-width="1.0"/>
<rect x="456.40" y="305.62" width="4.90" height="21.78" fill="#D4D4D9"/>
<circle cx="458.85" cy="297.89" r="1.05" fill="#1E3F72"/>
<circle cx="458.94" cy="304.92" r="1.05" fill="#1E3F72"/>
<circle cx="458.92" cy="305.62" r="1.05" fill="#1E3F72"/>
<circle cx="457.50" cy="306.32" r="1.05" fill="#1E3F72"/>
<circle cx="458.68" cy="307.73" r="1.05" fill="#1E3F72"/>
<circle cx="457.96" cy="309.13" r="1.05" fill="#1E3F72"/>
<circle cx="457.46" cy="310.54" r="1.05" fill="#1E3F72"/>
<circle cx="459.69" cy="311.94" r="1.05" fill="#1E3F72"/>
<circle cx="457.93" cy="313.35" r="1.05" fill="#1E3F72"/>
<circle cx="458.78" cy="316.16" r="1.05" fill="#1E3F72"/>
<circle cx="459.48" cy="317.56" r="1.05" fill="#1E3F72"/>
<circle cx="459.01" cy="318.97" r="1.05" fill="#1E3F72"/>
<line x1="458.85" y1="327.40" x2="458.85" y2="329.20" stroke="#222" stroke-width="0.6"/>
<rect x="464.60" y="317.28" width="4.90" height="10.12" fill="#D4D4D9"/>
<circle cx="466.56" cy="304.92" r="1.05" fill="#C8213F"/>
<circle cx="467.10" cy="310.54" r="1.05" fill="#C8213F"/>
<circle cx="467.21" cy="314.75" r="1.05" fill="#C8213F"/>
<circle cx="467.85" cy="317.56" r="1.05" fill="#C8213F"/>
<circle cx="465.95" cy="318.27" r="1.05" fill="#C8213F"/>
<circle cx="467.22" cy="318.97" r="1.05" fill="#C8213F"/>
<circle cx="466.35" cy="319.67" r="1.05" fill="#C8213F"/>
<circle cx="466.43" cy="320.38" r="1.05" fill="#C8213F"/>
<circle cx="467.81" cy="321.78" r="1.05" fill="#C8213F"/>
<circle cx="467.07" cy="323.19" r="1.05" fill="#C8213F"/>
<circle cx="467.22" cy="324.59" r="1.05" fill="#C8213F"/>
<circle cx="467.78" cy="326.00" r="1.05" fill="#C8213F"/>
<line x1="467.05" y1="327.40" x2="467.05" y2="329.20" stroke="#222" stroke-width="0.6"/>
<rect x="473.00" y="292.98" width="5.20" height="34.42" fill="#D4D4D9"/>
<circle cx="476.75" cy="275.41" r="1.05" fill="#1E3F72"/>
<circle cx="475.44" cy="278.22" r="1.05" fill="#1E3F72"/>
<circle cx="475.92" cy="285.25" r="1.05" fill="#1E3F72"/>
<circle cx="475.62" cy="288.06" r="1.05" fill="#1E3F72"/>
<circle cx="475.63" cy="292.27" r="1.05" fill="#1E3F72"/>
<circle cx="476.14" cy="293.68" r="1.05" fill="#1E3F72"/>
<circle cx="475.47" cy="294.38" r="1.05" fill="#1E3F72"/>
<circle cx="475.69" cy="295.08" r="1.05" fill="#1E3F72"/>
<circle cx="475.54" cy="296.49" r="1.05" fill="#1E3F72"/>
<circle cx="476.84" cy="299.30" r="1.05" fill="#1E3F72"/>
<circle cx="476.16" cy="302.11" r="1.05" fill="#1E3F72"/>
<circle cx="476.65" cy="306.32" r="1.05" fill="#1E3F72"/>
<circle cx="476.84" cy="307.73" r="1.05" fill="#1E3F72"/>
<line x1="475.60" y1="327.40" x2="475.60" y2="329.20" stroke="#222" stroke-width="0.6"/>
<rect x="481.10" y="312.23" width="4.90" height="15.17" fill="#D4D4D9"/>
<circle cx="482.88" cy="295.08" r="1.05" fill="#C8213F"/>
<circle cx="483.72" cy="306.32" r="1.05" fill="#C8213F"/>
<circle cx="484.79" cy="307.73" r="1.05" fill="#C8213F"/>
<circle cx="484.50" cy="309.13" r="1.05" fill="#C8213F"/>
<circle cx="482.53" cy="311.94" r="1.05" fill="#C8213F"/>
<circle cx="482.49" cy="312.65" r="1.05" fill="#C8213F"/>
<circle cx="483.39" cy="313.35" r="1.05" fill="#C8213F"/>
<circle cx="482.35" cy="314.75" r="1.05" fill="#C8213F"/>
<circle cx="482.82" cy="316.16" r="1.05" fill="#C8213F"/>
<circle cx="482.35" cy="317.56" r="1.05" fill="#C8213F"/>
<circle cx="484.02" cy="320.38" r="1.05" fill="#C8213F"/>
<line x1="483.55" y1="327.40" x2="483.55" y2="329.20" stroke="#222" stroke-width="0.6"/>
<polyline points="458.50,297.00 458.50,270.20 467.90,270.20 467.90,303.00" fill="none" stroke="#444" stroke-width="0.55"/>
<text x="463.20" y="268.60" font-size="5.6" fill="#333" text-anchor="middle" font-weight="normal" stroke="#333" stroke-width="0.2">ns</text>
<polyline points="475.30,276.00 475.30,270.20 485.00,270.20 485.00,295.00" fill="none" stroke="#444" stroke-width="0.55"/>
<text x="480.15" y="270.30" font-size="7.2" fill="#333" text-anchor="middle" font-weight="bold" textLength="5.6" lengthAdjust="spacingAndGlyphs">**</text>
<text x="432.30" y="298.30" font-size="6.6" fill="#333" text-anchor="middle" font-weight="normal" transform="rotate(-90 432.3 298.3)" dominant-baseline="central" textLength="50" lengthAdjust="spacingAndGlyphs" stroke="#333" stroke-width="0.2">Dead MOLP8 (%)</text>
<text x="466.20" y="333.60" font-size="6.8" fill="#222" text-anchor="end" font-weight="normal" transform="rotate(-45 466.2 333.6)" stroke="#222" stroke-width="0.2">MOLP8</text>
<text x="483.20" y="333.60" font-size="6.8" fill="#222" text-anchor="end" font-weight="normal" transform="rotate(-45 483.2 333.6)" stroke="#222" stroke-width="0.2">+ISA</text>
<circle cx="439.60" cy="257.80" r="1.25" fill="#1E3F72"/>
<text x="444.80" y="260.10" font-size="6.6" fill="#3C6EA8" text-anchor="start" font-weight="normal" textLength="8.7" lengthAdjust="spacingAndGlyphs">HD</text>
<circle cx="461.50" cy="257.80" r="1.25" fill="#C8213F"/>
<text x="465.60" y="260.10" font-size="6.6" fill="#D42A48" text-anchor="start" font-weight="normal" textLength="21.3" lengthAdjust="spacingAndGlyphs">NDMM</text>
</svg>
<div class="bd"></div>
</body></html>
